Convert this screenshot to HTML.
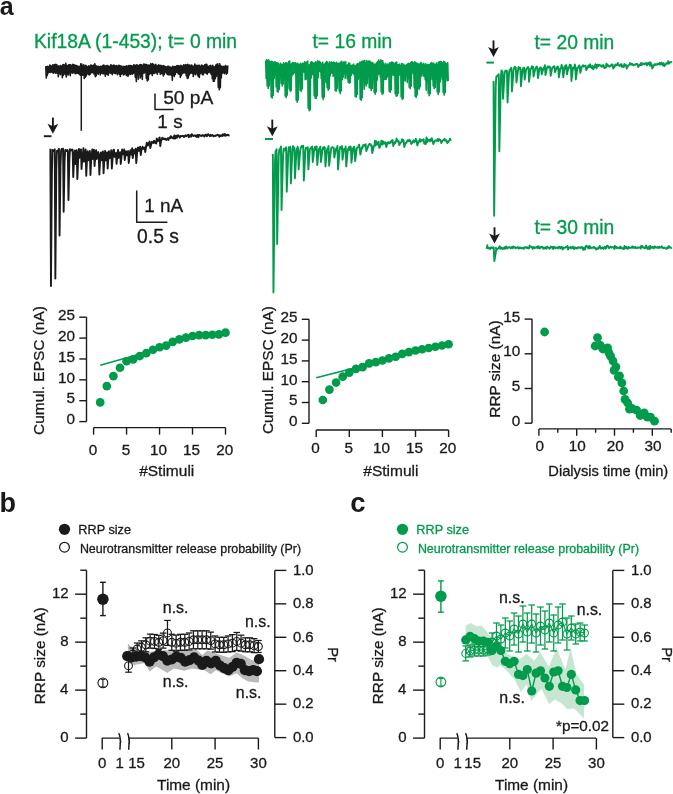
<!DOCTYPE html>
<html><head><meta charset="utf-8"><style>
html,body{margin:0;padding:0;background:#fff;}
svg{display:block;font-family:"Liberation Sans",sans-serif;filter:blur(0.3px);}
</style></head><body>
<svg width="673" height="794" viewBox="0 0 673 794">
<rect width="673" height="794" fill="#fff"/>
<text x="-0.15" y="14.66" font-size="25" fill="#1a1a1a" font-weight="bold">a</text>
<text x="-0.6" y="511.84" font-size="27" fill="#1a1a1a" font-weight="bold">b</text>
<text x="350.15" y="512.3" font-size="27.5" fill="#1a1a1a" font-weight="bold">c</text>
<text x="34" y="48.4" font-size="19.3" fill="#009b4b" font-weight="normal" stroke="#009b4b" stroke-width="0.3">Kif18A (1-453); t= 0 min</text>
<text x="312.5" y="48.2" font-size="19.3" fill="#009b4b" font-weight="normal" stroke="#009b4b" stroke-width="0.3">t= 16 min</text>
<text x="534.5" y="48.5" font-size="19.3" fill="#009b4b" font-weight="normal" stroke="#009b4b" stroke-width="0.3">t= 20 min</text>
<text x="534.5" y="234" font-size="19.3" fill="#009b4b" font-weight="normal" stroke="#009b4b" stroke-width="0.3">t= 30 min</text>
<path d="M45.8 66.13 L46.3 78 L46.8 66.83 L47.3 75.5 L47.8 66.4 L48.3 72.96 L48.8 66.9 L49.3 71.95 L49.8 65.16 L50.3 72.45 L50.8 65.45 L51.3 72.01 L51.8 66.65 L52.3 72.44 L52.8 64.91 L53.3 73.3 L53.8 64.95 L54.3 72.01 L54.8 64.53 L55.3 73.12 L55.8 64.31 L56.3 72.93 L56.8 64.75 L57.3 73.31 L57.8 66.19 L58.3 76.66 L58.8 65.82 L59.3 73.06 L59.8 66.54 L60.3 74.77 L60.8 65.57 L61.3 73.54 L61.8 66.3 L62.3 77.69 L62.8 64.88 L63.3 75.43 L63.8 64.64 L64.3 73.46 L64.8 65.29 L65.3 74.39 L65.8 63.35 L66.3 76.9 L66.8 65.44 L67.3 74.49 L67.8 65.63 L68.3 75 L68.8 64.88 L69.3 72.89 L69.8 64.66 L70.3 75.71 L70.8 64.79 L71.3 72.31 L71.8 65.93 L72.3 73.17 L72.8 64.18 L73.3 72.6 L73.8 64.8 L74.3 72.77 L74.8 64.99 L75.3 73.82 L75.8 65.52 L76.3 73.54 L76.8 65.61 L77.3 73.16 L77.8 66.22 L78.3 73.35 L78.8 66.63 L79.3 74.26 L79.8 66.33 L80.3 75.2 L80.8 63.71 L81.3 75.11 L81.8 64.12 L82.3 75.16 L82.8 65.99 L83.3 74.94 L83.8 64.88 L84.3 78.39 L84.8 66.23 L85.3 77.14 L85.8 65.22 L86.3 75.83 L86.8 66.42 L87.3 73.41 L87.8 66.94 L88.3 74.5 L88.8 65.88 L89.3 74.93 L89.8 66.49 L90.3 74.3 L90.8 65.06 L91.3 72.79 L91.8 65.29 L92.3 72.41 L92.8 65.7 L93.3 72.92 L93.8 64.95 L94.3 74.57 L94.8 63.84 L95.3 76.65 L95.8 65.63 L96.3 75.75 L96.8 66.33 L97.3 73.03 L97.8 66.26 L98.3 74.25 L98.8 66.65 L99.3 72.19 L99.8 66.59 L100.3 75.04 L100.8 66.27 L101.3 73.26 L101.8 66.46 L102.3 73.36 L102.8 65.57 L103.3 73.71 L103.8 65.02 L104.3 73.68 L104.8 65.96 L105.3 76.19 L105.8 66.02 L106.3 73.95 L106.8 65.62 L107.3 74.38 L107.8 65.45 L108.3 75.29 L108.8 66.43 L109.3 72.78 L109.8 66.26 L110.3 73.05 L110.8 64.68 L111.3 73.41 L111.8 65.29 L112.3 74.64 L112.8 65.77 L113.3 72.67 L113.8 65.11 L114.3 73.28 L114.8 65.55 L115.3 73.82 L115.8 65.94 L116.3 72.58 L116.8 65.54 L117.3 74.79 L117.8 66.32 L118.3 73.38 L118.8 65.29 L119.3 74.24 L119.8 65.63 L120.3 76.37 L120.8 66.33 L121.3 74.21 L121.8 66.09 L122.3 73.28 L122.8 67.21 L123.3 74.83 L123.8 66.3 L124.3 74.54 L124.8 66.8 L125.3 73.78 L125.8 66.29 L126.3 75.23 L126.8 65.73 L127.3 75.92 L127.8 66.58 L128.3 76.01 L128.8 65.67 L129.3 73.94 L129.8 65.59 L130.3 74.33 L130.8 65.52 L131.3 73.79 L131.8 65.78 L132.3 74.15 L132.8 66.32 L133.3 73.55 L133.8 64.91 L134.3 72.73 L134.8 65.24 L135.3 77.13 L135.8 65.19 L136.3 81.52 L136.8 64.76 L137.3 73.01 L137.8 65.28 L138.3 79.17 L138.8 65.62 L139.3 73.88 L139.8 64.89 L140.3 77.85 L140.8 64.49 L141.3 75.96 L141.8 64.89 L142.3 79.46 L142.8 65.79 L143.3 73.32 L143.8 63.98 L144.3 73.04 L144.8 64.22 L145.3 71.98 L145.8 64.5 L146.3 78.45 L146.8 64.44 L147.3 80.95 L147.8 65.52 L148.3 79.95 L148.8 65.02 L149.3 74.39 L149.8 65.27 L150.3 73.52 L150.8 63.62 L151.3 73.73 L151.8 64.55 L152.3 75.45 L152.8 63.67 L153.3 73.11 L153.8 64.78 L154.3 73.44 L154.8 65.41 L155.3 72.66 L155.8 64.23 L156.3 72.68 L156.8 66.23 L157.3 74.1 L157.8 65.62 L158.3 71.94 L158.8 64.91 L159.3 71.87 L159.8 65.7 L160.3 74.33 L160.8 65.28 L161.3 73.44 L161.8 65.82 L162.3 73.7 L162.8 66.16 L163.3 75.97 L163.8 65.47 L164.3 74.5 L164.8 66.62 L165.3 72 L165.8 66.71 L166.3 72.94 L166.8 67.01 L167.3 74.49 L167.8 66.23 L168.3 74.71 L168.8 66.25 L169.3 75.07 L169.8 67.27 L170.3 74.48 L170.8 66.99 L171.3 75.26 L171.8 67.52 L172.3 80.19 L172.8 66.22 L173.3 75.03 L173.8 67.17 L174.3 76.49 L174.8 66.58 L175.3 74.38 L175.8 66.66 L176.3 72.31 L176.8 65.84 L177.3 72.47 L177.8 65.51 L178.3 73.95 L178.8 65.78 L179.3 74.2 L179.8 66.18 L180.3 77.5 L180.8 65.34 L181.3 75.81 L181.8 65.95 L182.3 73.76 L182.8 66.03 L183.3 73.07 L183.8 64.7 L184.3 72.7 L184.8 65.38 L185.3 72.86 L185.8 64.6 L186.3 76 L186.8 65.25 L187.3 78.5 L187.8 64.41 L188.3 78 L188.8 65.23 L189.3 75 L189.8 65.1 L190.3 73.36 L190.8 65.62 L191.3 73 L191.8 64.98 L192.3 73.26 L192.8 66.54 L193.3 76.5 L193.8 66.05 L194.3 73.48 L194.8 64.13 L195.3 74.76 L195.8 65.53 L196.3 72.71 L196.8 65.22 L197.3 74.83 L197.8 65.48 L198.3 76.57 L198.8 65.36 L199.3 77.49 L199.8 65.18 L200.3 73.72 L200.8 66.78 L201.3 72.8 L201.8 64.99 L202.3 74.81 L202.8 65.71 L203.3 74.74 L203.8 66.12 L204.3 72.74 L204.8 64.86 L205.3 72.75 L205.8 64.27 L206.3 73.44 L206.8 64.21 L207.3 74.16 L207.8 66.27 L208.3 72.34 L208.8 66.3 L209.3 72.04 L209.8 65.82 L210.3 73.04 L210.8 65.4 L211.3 74.52 L211.8 66.94 L212.3 78.75 L212.8 65.31 L213.3 81.25 L213.8 67.02 L214.3 81.25 L214.8 66.71 L215.3 78.75 L215.8 65.11 L216.3 76.55 L216.8 64.4 L217.3 74.34 L217.8 63.79 L218.3 87.25 L218.8 65.86 L219.3 89.75 L219.8 63.76 L220.3 87.75 L220.8 65.72 L221.3 77.83 L221.8 66.54 L222.3 73.31 L222.8 66.5 L223.3 72.38 L223.8 66.26 L224.3 73.59 L224.8 66.36 L225.3 72.4 L225.8 65.67 L226.3 74.29 L226.8 66.79 L227.3 73.18 L227.8 65.48" fill="none" stroke="#1a1a1a" stroke-width="1.6" stroke-linejoin="round"/>
<line x1="81.3" y1="70" x2="81.3" y2="130.8" stroke="#1a1a1a" stroke-width="1.5"/>
<path d="M50.35 148.81 L50.95 286 L51.9 172.44 L52.5 149.87 L53.1 150.44 L53.7 151.04 L54.3 150.22 L54.75 149.33 L55.35 278.6 L56.3 170.64 L56.9 150.85 L57.5 151.62 L58.1 150.49 L58.7 149.23 L58.95 148.86 L59.55 235.5 L60.5 165.52 L61.1 150.54 L61.7 148.88 L62.3 150.33 L63.05 148.69 L63.65 211.7 L64.6 160.61 L65.2 150.07 L65.8 149.89 L66.4 151.04 L67 150.5 L67.6 150.05 L67.85 151.22 L68.45 200 L69.4 159.3 L70 149.16 L70.6 150.45 L71.2 149.8 L71.8 150.56 L72.4 149.55 L72.65 150.79 L73.25 177 L74.2 154.8 L74.92 150.38 L75.52 163.96 L76.47 154.42 L76.75 150.31 L77.35 179 L78.3 156.79 L79.02 148.95 L79.62 157.69 L80.57 152.36 L80.95 149.37 L81.55 169 L82.5 155.51 L83.1 151.79 L83.4 148.1 L84 161.75 L84.95 153.13 L85.65 149.5 L86.25 175.7 L87.2 154.91 L87.69 151.27 L88.29 160.2 L89.24 155.56 L89.85 150.9 L90.45 175 L91.4 155.23 L92 152.3 L92.27 149.54 L92.87 158.94 L93.82 153.6 L93.95 149.71 L94.55 166 L95.5 154.08 L96.11 150.15 L96.71 158.97 L97.66 154.75 L98.26 152.07 L98.75 155.13 L99.35 174.5 L100.3 155.92 L100.9 152.42 L101.24 152.76 L101.84 160.27 L102.79 153.73 L102.95 151.39 L103.55 173.3 L104.5 156.8 L105.1 151.06 L105.28 151.78 L105.88 160.42 L106.83 152.87 L107.05 152.41 L107.65 168.5 L108.6 154.6 L108.93 151.27 L109.53 158.24 L110.48 152.87 L111.08 151.62 L111.25 150.2 L111.85 168.5 L112.8 155.39 L113.4 149.99 L113.96 149.7 L114.56 156.85 L115.51 154.23 L115.95 152.95 L116.55 163.8 L117.5 153.89 L118 150.04 L118.6 157.82 L119.55 154.15 L120.15 152.11 L120.75 164 L121.7 154.89 L122.1 149.5 L122.7 154.41 L123.65 152.73 L124.15 149.53 L124.75 160 L125.7 153.07 L125.96 151.25 L126.56 155.35 L127.51 152.49 L128.15 151.09 L128.75 163 L129.7 154.91 L130.36 150.31 L130.96 154.56 L131.91 153.45 L132.15 148.26 L132.75 158 L133.7 152 L133.84 149.87 L134.44 153.42 L135.39 150.65 L135.65 148.8 L136.25 163 L137.2 151.64 L137.8 147.65 L138.13 147.48 L138.73 150.93 L139.68 148.3 L140.15 146.68 L140.75 155 L141.7 147.96 L142.3 148.91 L142.58 146.75 L143.18 148.86 L144.13 148.22 L144.65 147.6 L145.25 152 L146.2 145.97 L146.8 142.8 L147.19 145.09 L147.79 145.63 L148.74 143.44 L149.34 141.97 L149.65 141.55 L150.25 148 L151.2 144.4 L151.91 141.78 L152.51 142.22 L153.46 142.97 L154.06 140.61 L154.65 141.38 L155.25 143 L156.2 143.48 L156.8 138.36 L157.26 140.22 L157.86 141.16 L158.81 140.07 L159.41 137.66 L159.65 137.46 L160.25 146 L161.2 139.87 L161.8 139.34 L162.26 137.77 L162.86 139.14 L163.81 138.53 L164.41 139.35 L165.01 138.61 L165.65 139.3 L166.25 140 L167.2 138.79 L167.8 138.36 L168.4 140.01 L169 138.3 L169.6 137.56 L170.2 138.17 L170.8 136.11 L171.4 136.71 L172 137.89 L172.6 137.65 L173.2 138.57 L173.8 136.89 L174.4 135.38 L175 138.69 L175.6 137.79 L176.2 135.77 L176.8 137.88 L177.4 136.68 L178 135.15 L178.6 136.24 L179.2 136.15 L179.8 137.62 L180.4 135.9 L181 136.24 L181.6 136.18 L182.2 136.07 L182.8 135.67 L183.4 136.41 L184 136.95 L184.6 136.6 L185.2 135.51 L185.8 135.32 L186.4 136.14 L187 135.55 L187.6 135.56 L188.2 134.82 L188.8 137.2 L189.4 136.47 L190 135.18 L190.6 136.38 L191.2 136.63 L191.8 134.15 L192.4 135.31 L193 135.38 L193.6 136.01 L194.2 135.47 L194.8 135.37 L195.4 135.46 L196 136.67 L196.6 136.85 L197.2 135.15 L197.8 134.89 L198.4 137.16 L199 134.85 L199.6 135.1 L200.2 135.48 L200.8 135.75 L201.4 136.08 L202 135.68 L202.6 134.9 L203.2 135.74 L203.8 135.58 L204.4 136.55 L205 135.41 L205.6 134.61 L206.2 134.78 L206.8 136.26 L207.4 135.07 L208 134.15 L208.6 135.04 L209.2 135.38 L209.8 136.06 L210.4 134.78 L211 135.75 L211.6 135.81 L212.2 134.95 L212.8 135.24 L213.4 136.34 L214 136.31 L214.6 135.81 L215.2 135.51 L215.8 135.96 L216.4 135.24 L217 135.26 L217.6 134.83 L218.2 135.3 L218.8 135.25 L219.4 136.8 L220 135.18 L220.6 135.96 L221.2 135.98 L221.8 135.17 L222.4 135.89 L223 134.11 L223.6 135.3 L224.2 135.7 L224.8 134 L225.4 134.64 L226 135.78 L226.6 135.1 L227.2 134.66 L227.8 135.03 L228.4 134.94 L229 135.57 L229.6 135.43" fill="none" stroke="#1a1a1a" stroke-width="1.9" stroke-linejoin="round"/>
<line x1="52.9" y1="117.6" x2="52.9" y2="129.8" stroke="#1a1a1a" stroke-width="1.9"/>
<path d="M47.5 123.8 L52.9 133.8 L58.3 123.8 L52.9 126.3 Z" fill="#1a1a1a"/>
<line x1="43.8" y1="136.2" x2="51.5" y2="136.2" stroke="#1a1a1a" stroke-width="1.9"/>
<path d="M265.7 60.58 L266.2 78.78 L266.7 59.52 L267.2 85.9 L267.7 60.8 L268.2 88.4 L268.7 59.87 L269.2 85.9 L269.7 61.59 L270.2 72.5 L270.7 61.7 L271.2 97.05 L271.7 61.42 L272.2 98.05 L272.7 61.83 L273.2 95.55 L273.7 62.75 L274.2 78.39 L274.7 61.9 L275.2 74.78 L275.7 62.25 L276.2 87.02 L276.7 62.8 L277.2 91.4 L277.7 62.96 L278.2 91.9 L278.7 63.26 L279.2 89.4 L279.7 65.18 L280.2 77.72 L280.7 63.36 L281.2 83.45 L281.7 65.02 L282.2 85.95 L282.7 64.28 L283.2 83.95 L283.7 62.91 L284.2 70.47 L284.7 64.07 L285.2 96.1 L285.7 62.73 L286.2 97.6 L286.7 62.91 L287.2 95.1 L287.7 64.15 L288.2 78.36 L288.7 61.64 L289.2 88.85 L289.7 61.05 L290.2 91.35 L290.7 64.43 L291.2 90.35 L291.7 63.65 L292.2 75.19 L292.7 62.6 L293.2 74.12 L293.7 62.81 L294.2 72.78 L294.7 63.1 L295.2 72.62 L295.7 62.79 L296.2 100.25 L296.7 63.99 L297.2 102.25 L297.7 63.41 L298.2 99.75 L298.7 64.36 L299.2 76.53 L299.7 64.21 L300.2 90.35 L300.7 63.21 L301.2 91.35 L301.7 64.54 L302.2 88.85 L302.7 63.29 L303.2 72.17 L303.7 63.21 L304.2 71.97 L304.7 61.9 L305.2 79.69 L305.7 62.88 L306.2 79.11 L306.7 62.02 L307.2 72.41 L307.7 61.17 L308.2 108.25 L308.7 65.17 L309.2 110.75 L309.7 64.92 L310.2 109.75 L310.7 62.4 L311.2 77.94 L311.7 61.92 L312.2 74.4 L312.7 62.56 L313.2 74.76 L313.7 63.27 L314.2 95.85 L314.7 63.15 L315.2 98.35 L315.7 61.72 L316.2 98.35 L316.7 62.19 L317.2 95.85 L317.7 60.92 L318.2 77.48 L318.7 61.84 L319.2 71.18 L319.7 61.37 L320.2 72.07 L320.7 62.78 L321.2 78.45 L321.7 64.21 L322.2 97.1 L322.7 62.26 L323.2 99.6 L323.7 64.48 L324.2 97.1 L324.7 63.97 L325.2 80.78 L325.7 62.5 L326.2 82.45 L326.7 61.48 L327.2 87.7 L327.7 62.37 L328.2 90.2 L328.7 64.36 L329.2 88.7 L329.7 61.7 L330.2 75.99 L330.7 63.26 L331.2 72.61 L331.7 62.15 L332.2 73.28 L332.7 62.83 L333.2 76.4 L333.7 62.17 L334.2 74.63 L334.7 62.88 L335.2 90.6 L335.7 63.41 L336.2 91.1 L336.7 62.25 L337.2 88.6 L337.7 63.92 L338.2 75.79 L338.7 63.35 L339.2 91.1 L339.7 63.15 L340.2 93.6 L340.7 62.1 L341.2 91.1 L341.7 61.28 L342.2 79.75 L342.7 62.93 L343.2 77.17 L343.7 62.12 L344.2 73.55 L344.7 62.1 L345.2 78.32 L345.7 61.88 L346.2 74 L346.7 65.44 L347.2 78.7 L347.7 64.92 L348.2 82.29 L348.7 62.91 L349.2 83.28 L349.7 63.56 L350.2 82.39 L350.7 65.58 L351.2 75.49 L351.7 65.32 L352.2 73.04 L352.7 65.05 L353.2 73.71 L353.7 64 L354.2 74.71 L354.7 66.28 L355.2 96.6 L355.7 65.48 L356.2 97.1 L356.7 64.4 L357.2 94.6 L357.7 63.56 L358.2 79.17 L358.7 64.07 L359.2 76.99 L359.7 62.4 L360.2 99.25 L360.7 62.26 L361.2 100.25 L361.7 61.5 L362.2 97.75 L362.7 61.12 L363.2 76.35 L363.7 60.96 L364.2 89.28 L364.7 60.52 L365.2 83.95 L365.7 63.09 L366.2 85.95 L366.7 60.48 L367.2 83.45 L367.7 62.16 L368.2 75.24 L368.7 61.03 L369.2 87.79 L369.7 60.93 L370.2 87.95 L370.7 62.02 L371.2 90.45 L371.7 62.82 L372.2 88.45 L372.7 62.49 L373.2 72.5 L373.7 64.45 L374.2 92.15 L374.7 64.02 L375.2 94.15 L375.7 64.03 L376.2 91.65 L376.7 62.79 L377.2 80.1 L377.7 61.54 L378.2 74.82 L378.7 60.08 L379.2 73.34 L379.7 62.08 L380.2 77.02 L380.7 60.1 L381.2 91.85 L381.7 60.63 L382.2 94.35 L382.7 60.78 L383.2 93.35 L383.7 63.3 L384.2 79.08 L384.7 65.2 L385.2 79.59 L385.7 63.55 L386.2 79.12 L386.7 65.52 L387.2 77.13 L387.7 64.06 L388.2 73.86 L388.7 64.22 L389.2 91.15 L389.7 62.74 L390.2 92.15 L390.7 62.69 L391.2 89.65 L391.7 62.07 L392.2 74.39 L392.7 62.33 L393.2 75.33 L393.7 62.77 L394.2 74.72 L394.7 64.36 L395.2 93.8 L395.7 62.57 L396.2 96.3 L396.7 62.17 L397.2 95.8 L397.7 64.98 L398.2 93.3 L398.7 64.61 L399.2 75.16 L399.7 64.13 L400.2 74.32 L400.7 66.04 L401.2 97.05 L401.7 63.58 L402.2 99.55 L402.7 63.85 L403.2 98.55 L403.7 65.02 L404.2 78.72 L404.7 64.97 L405.2 80.97 L405.7 65.44 L406.2 75.31 L406.7 64.71 L407.2 82.53 L407.7 63.91 L408.2 77.9 L408.7 63.32 L409.2 87.2 L409.7 64.15 L410.2 88.7 L410.7 62.5 L411.2 86.2 L411.7 61.91 L412.2 71 L412.7 62.05 L413.2 73.65 L413.7 63.23 L414.2 87.49 L414.7 61.83 L415.2 96.35 L415.7 62.77 L416.2 97.35 L416.7 62.95 L417.2 94.85 L417.7 63.73 L418.2 88.15 L418.7 64 L419.2 89.15 L419.7 64.16 L420.2 86.65 L420.7 62.58 L421.2 76.15 L421.7 63.19 L422.2 73.39 L422.7 65.32 L423.2 75.85 L423.7 63.4 L424.2 76.28 L424.7 65.34 L425.2 79.77 L425.7 63.89 L426.2 90.27 L426.7 65.22 L427.2 80 L427.7 64.59 L428.2 93.15 L428.7 64.64 L429.2 95.65 L429.7 64.44 L430.2 93.65 L430.7 63.18 L431.2 73.07 L431.7 62.61 L432.2 79.45 L432.7 64.17 L433.2 85.95 L433.7 63.09 L434.2 88.45 L434.7 64.63 L435.2 87.45 L435.7 64.22 L436.2 77.21 L436.7 62.7 L437.2 91.9 L437.7 64.61 L438.2 94.4 L438.7 62.06 L439.2 91.9 L439.7 61.74 L440.2 81.98 L440.7 61.48 L441.2 76.34 L441.7 62.16 L442.2 79.56 L442.7 63.02 L443.2 92.6 L443.7 61.47 L444.2 95.1 L444.7 61.74 L445.2 92.6 L445.7 63.34 L446.2 71.7 L446.7 64.08 L447.2 80.77 L447.7 62.8 L448.2 80.95" fill="none" stroke="#009b4b" stroke-width="1.6" stroke-linejoin="round"/>
<path d="M272.2 155.35 L272.85 154.74 L273.45 292.5 L275 162.02 L275.6 151.17 L276.2 150.91 L276.55 149.25 L277.15 244 L278.7 155.73 L279.3 149.62 L279.9 148.97 L280.5 148.47 L280.95 146.41 L281.55 210 L283.1 154.22 L283.7 148.58 L284.3 150.69 L284.9 149.12 L285.5 148.54 L286.15 147.27 L286.75 191.7 L288.3 152.23 L288.9 147.25 L289.5 148.97 L290.25 146.99 L290.85 183.5 L292.4 149.93 L293 146.17 L293.6 149.65 L294.35 147.44 L294.95 178.3 L296.5 149.93 L297.1 148.33 L297.7 146.78 L298.05 148.6 L298.65 169.4 L300.2 150.46 L300.8 148.14 L301.4 146.67 L302 145.94 L302.6 147.1 L303.25 145.77 L303.85 180.5 L305.4 150.38 L306 147.72 L306.6 148.19 L307.2 147.8 L307.75 147.27 L308.35 169.4 L309.9 149.09 L310.5 148.78 L311.1 147.59 L311.7 147.03 L312.15 146.52 L312.75 162 L314.3 148.95 L314.9 147.07 L315.5 149.68 L316.1 146.66 L316.65 146.43 L317.25 164.9 L318.8 149.28 L319.4 148.52 L320 147.6 L320.35 146.64 L320.95 162 L322.5 149.8 L323.1 147.56 L323.7 148.92 L324.3 146.93 L324.85 147.82 L325.45 166.4 L327 149.87 L327.6 148.31 L328.2 148.39 L328.55 146.08 L329.15 165.7 L330.7 152.17 L331.3 148.2 L331.9 147.46 L332.5 147.05 L333.1 147.72 L333.75 148.04 L334.35 157.5 L335.9 149.34 L336.5 148.01 L337.1 148.52 L337.45 145.91 L338.05 169.4 L339.6 150.26 L340.2 146.9 L340.8 148.18 L341.4 148.5 L341.95 146.09 L342.55 159.7 L344.1 148.92 L344.7 148.81 L345.3 149.02 L345.65 146.55 L346.25 166.4 L347.8 149.84 L348.4 148.31 L349 147.33 L349.6 149.94 L350.2 146.34 L350.85 147.07 L351.45 162.7 L353 148.62 L353.6 147.29 L354.2 146.71 L354.55 148.57 L355.15 161.2 L356.7 149.21 L357.3 147.42 L357.9 147.42 L358.5 146.08 L359.1 144.68 L359.75 148.71 L360.35 154.5 L361.9 147.31 L362.5 148.08 L363.1 145.18 L363.7 145.51 L364.3 144.92 L364.9 146.16 L365.65 144.21 L366.25 151 L367.8 147.41 L368.4 145.22 L369 144.71 L369.6 143.73 L370.2 144.69 L370.8 144.27 L371.4 146.52 L371.65 145.34 L372.25 153 L373.8 146.45 L374.4 145.7 L375 140.79 L375.6 145.56 L376.2 141.22 L376.8 143.48 L377.4 144.41 L378 143.31 L378.65 141.75 L379.25 148 L380.8 144.83 L381.4 140.6 L382 140.92 L382.6 144.45 L383.2 141.51 L383.8 142.84 L384.4 143.48 L385 142.23 L385.65 142.59 L386.25 147 L387.8 142.43 L388.4 142.18 L389 143.36 L389.6 142.95 L390.2 142.07 L390.8 142.76 L391.4 140.79 L392 140.43 L392.65 139.97 L393.25 146 L394.8 142.33 L395.4 143.02 L396 141.09 L396.6 138.53 L397.2 140.33 L397.8 141.52 L398.4 141.29 L398.65 141.04 L399.25 145 L400.8 142.41 L401.4 141.97 L402 139.28 L402.6 141.36 L403.2 139.97 L403.65 141.12 L404.25 147 L405.8 142.77 L406.4 142.85 L407 141.55 L407.6 140.18 L408.2 140.34 L408.8 141.32 L409.4 139.62 L410 140.63 L410.65 141.47 L411.25 144 L412.8 142.04 L413.4 140.32 L414 141.01 L414.6 142.04 L415.2 140.92 L415.8 138.8 L416.4 140.79 L416.65 140.89 L417.25 145.5 L418.8 141.37 L419.4 140.56 L420 139.02 L420.6 141.73 L421.2 140.89 L421.8 139.91 L422.4 140.67 L423 140.55 L423.65 139.26 L424.25 143.5 L425.8 143.99 L426.4 137.53 L427 142.28 L427.6 139.19 L428.2 139.98 L428.8 140.81 L429.4 139.88 L430 141.37 L430.6 139.28 L431.2 140.72 L431.8 138.15 L432.4 140.83 L432.65 141.02 L433.25 144 L434.8 140.79 L435.4 140.35 L436 140.3 L436.6 140.85 L437.2 140.92 L437.8 139.1 L438.4 140.97 L439 139.07 L439.6 140.1 L440.2 139.69 L440.65 140.53 L441.25 143 L442.8 140.47 L443.4 140.21 L444 139.37 L444.6 138.91 L445.2 140.77 L445.8 140.29 L446.4 140.22 L446.65 140.97 L447.25 143 L448.8 141.25 L449.4 140.49 L450 138.69 L450.6 139.97 L451.2 139.45" fill="none" stroke="#009b4b" stroke-width="1.9" stroke-linejoin="round"/>
<line x1="272.3" y1="119.6" x2="272.3" y2="132.2" stroke="#1a1a1a" stroke-width="1.9"/>
<path d="M266.9 126.2 L272.3 136.2 L277.7 126.2 L272.3 128.7 Z" fill="#1a1a1a"/>
<line x1="265" y1="139" x2="273" y2="139" stroke="#009b4b" stroke-width="2"/>
<path d="M493.2 81.03 L493.55 81.47 L494.15 215.8 L495.7 87.18 L496.3 76.68 L496.9 76.24 L497.5 75.44 L498.1 75.73 L498.75 74.19 L499.35 151.3 L500.9 77.78 L501.5 70.41 L502.1 73.09 L502.45 71.5 L503.05 98.8 L504.6 73.43 L505.2 70.84 L505.8 70.47 L506.4 71.02 L506.95 71.21 L507.55 102.5 L509.1 72.03 L509.7 69.61 L510.3 70.17 L510.9 68.67 L511.35 67.69 L511.95 91.4 L513.5 70.45 L514.1 67.98 L514.7 66.72 L515.3 67.66 L515.85 67.86 L516.45 82.5 L518 70.28 L518.6 66.88 L519.2 68.21 L519.8 68.94 L520.35 67.86 L520.95 86.2 L522.5 69.84 L523.1 68.32 L523.7 68.6 L524.05 67.61 L524.65 79.5 L526.2 69.06 L526.8 68.74 L527.4 67.57 L528 66.98 L528.45 68.04 L529.05 81.7 L530.6 68.69 L531.2 68.59 L531.8 66.34 L532.4 66.89 L532.95 66.62 L533.55 76.5 L535.1 69.65 L535.7 67.46 L536.3 67.81 L536.9 66.58 L537.35 68.62 L537.95 78 L539.5 68.62 L540.1 67.72 L540.7 67.47 L541.15 68 L541.75 74.3 L543.3 68.72 L543.9 67.52 L544.5 67.49 L544.85 65.12 L545.45 75 L547 67.68 L547.6 66.59 L548.2 67.6 L548.8 66.37 L549.4 66.78 L550.05 67.12 L550.65 75.8 L552.2 68.16 L552.8 67.33 L553.4 66.61 L554 67.2 L554.45 66.16 L555.05 72.1 L556.6 68.06 L557.2 67.25 L557.8 66.44 L558.25 67.24 L558.85 77.3 L560.4 68.47 L561 68.41 L561.6 64.91 L562.2 67.45 L562.65 66.98 L563.25 77.3 L564.8 67.22 L565.4 65.41 L566 67.77 L566.35 65.18 L566.95 74.3 L568.5 67.44 L569.1 67.77 L569.7 64.67 L570.3 66.04 L570.85 65.04 L571.45 81 L573 67.43 L573.6 67.93 L574.2 68.47 L574.8 64.35 L575.25 65.68 L575.85 79.5 L577.4 67.71 L578 67.93 L578.6 66.65 L579.2 65.36 L579.75 66.46 L580.35 72.8 L581.9 66.54 L582.5 65.89 L583.1 65.29 L583.7 66.5 L584.3 66.4 L584.9 65.94 L585.65 65.78 L586.25 70 L587.8 67.47 L588.4 65.39 L589 67.22 L589.6 65.68 L590.2 64.3 L590.8 67.3 L591.4 66.4 L592 68.1 L592.65 65.84 L593.25 69.3 L594.8 66.39 L595.4 64.13 L596 67.11 L596.6 68.44 L597.2 64.75 L597.8 64.92 L598.4 66.24 L599 64.68 L599.6 65.27 L600.2 65.17 L600.8 65.73 L601.4 66.68 L602 65.51 L602.6 66.45 L603.2 64.99 L603.65 65.75 L604.25 68 L605.8 67.65 L606.4 63.79 L607 66.17 L607.6 64.67 L608.2 65.9 L608.8 65.84 L609.4 66.66 L610 66.09 L610.6 66.29 L611.2 65.07 L611.8 64.42 L612.4 64.37 L612.65 64.64 L613.25 68.5 L614.8 66.4 L615.4 64.47 L616 64.93 L616.6 65.28 L617.2 64.63 L617.8 62.93 L618.4 64.88 L619 65.17 L619.6 66.06 L620.2 65.5 L620.8 64.2 L621.4 64.1 L622 66.96 L622.6 65.62 L623.2 66.74 L623.8 67.03 L624.4 63.91 L625 65.16 L625.6 65.22 L626.15 65.27 L626.75 68.6 L628.3 65.44 L628.9 64.85 L629.5 64.81 L630.1 63.04 L630.7 64.42 L631.3 63.79 L631.9 64.69 L632.5 64.05 L633.1 65.17 L633.7 65.36 L634.3 64.81 L634.9 64.8 L635.5 64.55 L636.1 63.97 L636.7 64.25 L637.3 63.89 L637.65 64.77 L638.25 67 L639.8 64.5 L640.4 64.91 L641 62.92 L641.6 65.19 L642.2 63.47 L642.8 63.48 L643.4 64.02 L644 63.63 L644.6 64.49 L645.2 63.58 L645.8 63.06 L646.4 63.27 L647 65.47 L647.6 64.15 L648.2 62.89 L648.8 64.08 L649.4 62.46 L650 65.87 L650.6 62.46 L651.2 64.49 L651.65 64.52 L652.25 68.6 L653.8 65.65 L654.4 64.21 L655 64.91 L655.6 64.35 L656.2 64.12 L656.8 64.8 L657.4 63.98 L658 64.15 L658.6 63.66 L659.2 64.41 L659.8 62.8 L660.4 64.54 L661 63.21 L661.6 62.6 L662.2 64.05 L662.8 65.38 L663.4 64.62 L663.65 63.12 L664.25 66 L665.8 64.42 L666.4 63.1 L667 63.42 L667.6 63.62 L668.2 61.18 L668.8 63.68 L669.4 62.44 L670 62.76 L670.6 61.96 L671.2 61.91 L671.8 62.46" fill="none" stroke="#009b4b" stroke-width="1.9" stroke-linejoin="round"/>
<line x1="493.5" y1="40.4" x2="493.5" y2="53" stroke="#1a1a1a" stroke-width="1.9"/>
<path d="M488.1 47 L493.5 57 L498.9 47 L493.5 49.5 Z" fill="#1a1a1a"/>
<line x1="486.4" y1="62.6" x2="493.9" y2="62.6" stroke="#009b4b" stroke-width="2"/>
<path d="M486.7 248.97 L487.3 245.29 L487.9 248.32 L488.5 247.65 L489.1 248.59 L489.7 247.89 L490.3 248.97 L490.9 247.62 L491.5 247.21 L492.1 248.04 L492.7 247.92 L493.3 247.33 L493.75 247.45 L494.35 261 L496.3 249.37 L495.95 248.02 L496.55 249.9 L498.5 248.13 L499.1 247.32 L499.7 246.24 L500.3 248.86 L500.9 247.43 L501.5 248.6 L502.1 247.91 L502.7 249.06 L503.3 248.75 L503.9 247.84 L504.5 248.71 L505.1 246.89 L505.7 248.54 L506.3 246.49 L506.9 247.86 L507.5 248.4 L508.1 247.77 L508.7 247.32 L509.3 247 L509.9 247.34 L510.5 248.39 L511.1 248.27 L511.7 247.4 L512.3 246.67 L512.9 248.11 L513.5 246.51 L514.1 247.2 L514.7 247.05 L515.3 248.16 L515.9 247.78 L516.5 247.95 L517.1 247.8 L517.7 247.09 L518.3 248 L518.9 248.66 L519.5 247.57 L520.1 248.08 L520.7 247.51 L521.3 248.37 L521.9 248.1 L522.5 248.26 L523.1 247.86 L523.7 248.83 L524.3 247.33 L524.9 247.35 L525.5 247.16 L526.1 248.06 L526.7 247.13 L527.3 247.12 L527.9 248.15 L528.5 248.47 L529.1 248.03 L529.7 245.59 L530.3 246.88 L530.9 246.79 L531.5 246.69 L532.1 247.29 L532.7 248.96 L533.3 247.37 L533.9 247.05 L534.5 248.12 L535.1 247.65 L535.7 247.69 L536.3 247.08 L536.9 247.6 L537.5 247.93 L538.1 246.17 L538.7 246.39 L539.3 248.41 L539.9 248.23 L540.5 247.22 L541.1 246.83 L541.7 247.46 L542.3 246.7 L542.9 247.34 L543.5 248.84 L544.1 247.7 L544.7 248.47 L545.3 247.43 L545.9 247.88 L546.5 248.64 L547.1 246.6 L547.7 247.34 L548.3 247.48 L548.9 247.81 L549.5 248.77 L550.1 248.11 L550.7 246.48 L551.3 247.4 L551.9 246.93 L552.5 246.91 L553.1 249.12 L553.7 246.8 L554.3 247.78 L554.9 247.06 L555.5 248.25 L556.1 247.87 L556.7 247.7 L557.3 247.54 L557.9 248.45 L558.5 246.9 L559.1 247.05 L559.7 246.76 L560.3 248.6 L560.9 247.38 L561.5 246.82 L562.1 247.29 L562.7 249.47 L563.3 247.52 L563.9 248.24 L564.5 247.95 L565.1 247.59 L565.7 247.08 L566.3 247.35 L566.9 247.33 L567.5 245.94 L568.1 249.54 L568.7 248.29 L569.3 247.69 L569.9 247.45 L570.5 247.01 L571.1 248.31 L571.7 247.46 L572.3 247.96 L572.9 246.56 L573.5 247.88 L574.1 249.1 L574.7 247.38 L575.3 248.2 L575.9 247.63 L576.5 248.43 L577.1 248.4 L577.7 247.65 L578.3 247.18 L578.9 247.82 L579.5 247.63 L580.1 247.14 L580.7 247.94 L581.3 247.92 L581.9 246.93 L582.5 247.52 L583.1 249.79 L583.7 248.21 L584.3 247.67 L584.9 249.48 L585.5 247.26 L586.1 245.74 L586.7 246.17 L587.3 246.46 L587.9 247.8 L588.5 248.33 L589.1 245.97 L589.7 248.44 L590.3 246.68 L590.9 247.79 L591.5 247.95 L592.1 247.92 L592.7 247.61 L593.3 247.73 L593.9 246.75 L594.5 247.81 L595.1 248.33 L595.7 248.29 L596.3 249.56 L596.9 248.41 L597.5 248.14 L598.1 248.85 L598.7 247.78 L599.3 246.63 L599.9 245.92 L600.5 248.56 L601.1 248.03 L601.7 248.24 L602.3 247.35 L602.9 247.86 L603.5 249.01 L604.1 247.85 L604.7 246.76 L605.3 247.28 L605.9 248.64 L606.5 246.78 L607.1 245.66 L607.7 245.88 L608.3 246.6 L608.9 248.2 L609.5 247.67 L610.1 247.03 L610.7 246.64 L611.3 247.51 L611.9 247.48 L612.5 247.18 L613.1 247.42 L613.7 247.03 L614.3 248.95 L614.9 245.82 L615.5 247.69 L616.1 246.84 L616.7 248.13 L617.3 247.42 L617.9 247.87 L618.5 248 L619.1 247.75 L619.7 248.34 L620.3 246.56 L620.9 248.31 L621.5 247.44 L622.1 247.89 L622.7 248.77 L623.3 248.44 L623.9 249.09 L624.5 245.91 L625.1 246.88 L625.7 248.32 L626.3 246.75 L626.9 247.46 L627.5 248.88 L628.1 248.26 L628.7 246.88 L629.3 247.94 L629.9 248.08 L630.5 247.65 L631.1 247.52 L631.7 247.71 L632.3 246.47 L632.9 247.69 L633.5 246.87 L634.1 247.9 L634.7 247.92 L635.3 246.93 L635.9 248.06 L636.5 247.87 L637.1 247.57 L637.7 248.14 L638.3 247.37 L638.9 247.39 L639.5 247.66 L640.1 247.56 L640.7 248.46 L641.3 245.82 L641.9 247.37 L642.5 246.09 L643.1 247.21 L643.7 247.77 L644.3 247.58 L644.9 248.3 L645.5 247.81 L646.1 245.52 L646.7 246.73 L647.3 248.74 L647.9 248.74 L648.5 247.64 L649.1 246.4 L649.7 249.19 L650.3 245.99 L650.9 247.79 L651.5 247.52 L652.1 247.73 L652.7 246.67 L653.3 247.25 L653.9 248.35 L654.5 247.18 L655.1 246.5 L655.7 247.53 L656.3 247.6 L656.9 247.43 L657.5 246.94 L658.1 247.94 L658.7 247.44 L659.3 246.65 L659.9 247.7 L660.5 247.51 L661.1 247.64 L661.7 246.26 L662.3 246.96 L662.9 247.88 L663.5 248.24 L664.1 247.8 L664.7 247.66 L665.3 248.09 L665.9 248.29 L666.5 248.88 L667.1 247.91 L667.7 247.14 L668.3 247.92 L668.9 246.1 L669.5 247.62 L670.1 247.24 L670.7 247.56 L671.3 247.95 L671.9 247.62" fill="none" stroke="#009b4b" stroke-width="1.9" stroke-linejoin="round"/>
<line x1="494.5" y1="227.3" x2="494.5" y2="239.4" stroke="#1a1a1a" stroke-width="1.9"/>
<path d="M489.1 233.4 L494.5 243.4 L499.9 233.4 L494.5 235.9 Z" fill="#1a1a1a"/>
<path d="M155 93.5 V109.4 H173.6" fill="none" stroke="#1a1a1a" stroke-width="1.5" stroke-linejoin="round"/>
<text x="163.2" y="103.6" font-size="19.2" fill="#1a1a1a" font-weight="normal" stroke="#1a1a1a" stroke-width="0.3">50 pA</text>
<text x="157.35" y="127.5" font-size="19" fill="#1a1a1a" font-weight="normal" stroke="#1a1a1a" stroke-width="0.3">1 s</text>
<path d="M136.7 190.5 V222.3 H167.4" fill="none" stroke="#1a1a1a" stroke-width="1.5" stroke-linejoin="round"/>
<text x="144.15" y="212.2" font-size="19" fill="#1a1a1a" font-weight="normal" stroke="#1a1a1a" stroke-width="0.3">1 nA</text>
<text x="137.05" y="242.5" font-size="19.3" fill="#1a1a1a" font-weight="normal" stroke="#1a1a1a" stroke-width="0.3">0.5 s</text>
<line x1="86.5" y1="317.2" x2="86.5" y2="421.6" stroke="#1a1a1a" stroke-width="1.4"/>
<line x1="79.3" y1="421.6" x2="86.5" y2="421.6" stroke="#1a1a1a" stroke-width="1.4"/>
<text x="66.4" y="424.3" font-size="15.3" fill="#1a1a1a" font-weight="normal" stroke="#1a1a1a" stroke-width="0.3">0</text>
<line x1="79.3" y1="400.72" x2="86.5" y2="400.72" stroke="#1a1a1a" stroke-width="1.4"/>
<text x="66.45" y="403.42" font-size="15.3" fill="#1a1a1a" font-weight="normal" stroke="#1a1a1a" stroke-width="0.3">5</text>
<line x1="79.3" y1="379.84" x2="86.5" y2="379.84" stroke="#1a1a1a" stroke-width="1.4"/>
<text x="57.9" y="382.54" font-size="15.3" fill="#1a1a1a" font-weight="normal" stroke="#1a1a1a" stroke-width="0.3">10</text>
<line x1="79.3" y1="358.96" x2="86.5" y2="358.96" stroke="#1a1a1a" stroke-width="1.4"/>
<text x="57.95" y="361.66" font-size="15.3" fill="#1a1a1a" font-weight="normal" stroke="#1a1a1a" stroke-width="0.3">15</text>
<line x1="79.3" y1="338.08" x2="86.5" y2="338.08" stroke="#1a1a1a" stroke-width="1.4"/>
<text x="57.9" y="340.78" font-size="15.3" fill="#1a1a1a" font-weight="normal" stroke="#1a1a1a" stroke-width="0.3">20</text>
<line x1="79.3" y1="317.2" x2="86.5" y2="317.2" stroke="#1a1a1a" stroke-width="1.4"/>
<text x="57.95" y="319.9" font-size="15.3" fill="#1a1a1a" font-weight="normal" stroke="#1a1a1a" stroke-width="0.3">25</text>
<line x1="93.6" y1="427.6" x2="225.5" y2="427.6" stroke="#1a1a1a" stroke-width="1.4"/>
<line x1="93.6" y1="427.6" x2="93.6" y2="434.6" stroke="#1a1a1a" stroke-width="1.4"/>
<text x="88.65" y="454.5" font-size="15.3" fill="#1a1a1a" font-weight="normal" stroke="#1a1a1a" stroke-width="0.3">0</text>
<line x1="126.57" y1="427.6" x2="126.57" y2="434.6" stroke="#1a1a1a" stroke-width="1.4"/>
<text x="121.65" y="454.5" font-size="15.3" fill="#1a1a1a" font-weight="normal" stroke="#1a1a1a" stroke-width="0.3">5</text>
<line x1="159.55" y1="427.6" x2="159.55" y2="434.6" stroke="#1a1a1a" stroke-width="1.4"/>
<text x="150.08" y="454.5" font-size="15.3" fill="#1a1a1a" font-weight="normal" stroke="#1a1a1a" stroke-width="0.3">10</text>
<line x1="192.52" y1="427.6" x2="192.52" y2="434.6" stroke="#1a1a1a" stroke-width="1.4"/>
<text x="183.07" y="454.5" font-size="15.3" fill="#1a1a1a" font-weight="normal" stroke="#1a1a1a" stroke-width="0.3">15</text>
<line x1="225.5" y1="427.6" x2="225.5" y2="434.6" stroke="#1a1a1a" stroke-width="1.4"/>
<text x="216.23" y="454.5" font-size="15.3" fill="#1a1a1a" font-weight="normal" stroke="#1a1a1a" stroke-width="0.3">20</text>
<text x="139.15" y="475.8" font-size="15.5" fill="#1a1a1a" font-weight="normal" stroke="#1a1a1a" stroke-width="0.3">#Stimuli</text>
<text x="0" y="0" font-size="15.46" fill="#1a1a1a" stroke="#1a1a1a" stroke-width="0.3" transform="translate(44.3 434.9) rotate(-90)">Cumul. EPSC (nA)</text>
<line x1="100.19" y1="365.22" x2="146.36" y2="352.28" stroke="#009b4b" stroke-width="1.5"/>
<circle cx="100.19" cy="402.39" r="4.35" fill="#009b4b" stroke="none" stroke-width="0"/>
<circle cx="106.79" cy="386.1" r="4.35" fill="#009b4b" stroke="none" stroke-width="0"/>
<circle cx="113.38" cy="376.08" r="4.35" fill="#009b4b" stroke="none" stroke-width="0"/>
<circle cx="119.98" cy="367.73" r="4.35" fill="#009b4b" stroke="none" stroke-width="0"/>
<circle cx="126.57" cy="361.26" r="4.35" fill="#009b4b" stroke="none" stroke-width="0"/>
<circle cx="133.17" cy="359.38" r="4.35" fill="#009b4b" stroke="none" stroke-width="0"/>
<circle cx="139.76" cy="356.04" r="4.35" fill="#009b4b" stroke="none" stroke-width="0"/>
<circle cx="146.36" cy="353.11" r="4.35" fill="#009b4b" stroke="none" stroke-width="0"/>
<circle cx="152.95" cy="349.77" r="4.35" fill="#009b4b" stroke="none" stroke-width="0"/>
<circle cx="159.55" cy="347.27" r="4.35" fill="#009b4b" stroke="none" stroke-width="0"/>
<circle cx="166.14" cy="345.6" r="4.35" fill="#009b4b" stroke="none" stroke-width="0"/>
<circle cx="172.74" cy="341.84" r="4.35" fill="#009b4b" stroke="none" stroke-width="0"/>
<circle cx="179.33" cy="339.33" r="4.35" fill="#009b4b" stroke="none" stroke-width="0"/>
<circle cx="185.93" cy="337.66" r="4.35" fill="#009b4b" stroke="none" stroke-width="0"/>
<circle cx="192.52" cy="335.99" r="4.35" fill="#009b4b" stroke="none" stroke-width="0"/>
<circle cx="199.12" cy="335.16" r="4.35" fill="#009b4b" stroke="none" stroke-width="0"/>
<circle cx="205.71" cy="335.16" r="4.35" fill="#009b4b" stroke="none" stroke-width="0"/>
<circle cx="212.31" cy="334.74" r="4.35" fill="#009b4b" stroke="none" stroke-width="0"/>
<circle cx="218.9" cy="334.32" r="4.35" fill="#009b4b" stroke="none" stroke-width="0"/>
<circle cx="225.5" cy="332.65" r="4.35" fill="#009b4b" stroke="none" stroke-width="0"/>
<line x1="309" y1="319.3" x2="309" y2="423.3" stroke="#1a1a1a" stroke-width="1.4"/>
<line x1="301.8" y1="423.3" x2="309" y2="423.3" stroke="#1a1a1a" stroke-width="1.4"/>
<text x="288.9" y="426.2" font-size="15.3" fill="#1a1a1a" font-weight="normal" stroke="#1a1a1a" stroke-width="0.3">0</text>
<line x1="301.8" y1="402.5" x2="309" y2="402.5" stroke="#1a1a1a" stroke-width="1.4"/>
<text x="288.95" y="405.4" font-size="15.3" fill="#1a1a1a" font-weight="normal" stroke="#1a1a1a" stroke-width="0.3">5</text>
<line x1="301.8" y1="381.7" x2="309" y2="381.7" stroke="#1a1a1a" stroke-width="1.4"/>
<text x="280.4" y="384.6" font-size="15.3" fill="#1a1a1a" font-weight="normal" stroke="#1a1a1a" stroke-width="0.3">10</text>
<line x1="301.8" y1="360.9" x2="309" y2="360.9" stroke="#1a1a1a" stroke-width="1.4"/>
<text x="280.45" y="363.8" font-size="15.3" fill="#1a1a1a" font-weight="normal" stroke="#1a1a1a" stroke-width="0.3">15</text>
<line x1="301.8" y1="340.1" x2="309" y2="340.1" stroke="#1a1a1a" stroke-width="1.4"/>
<text x="280.4" y="343" font-size="15.3" fill="#1a1a1a" font-weight="normal" stroke="#1a1a1a" stroke-width="0.3">20</text>
<line x1="301.8" y1="319.3" x2="309" y2="319.3" stroke="#1a1a1a" stroke-width="1.4"/>
<text x="280.45" y="322.2" font-size="15.3" fill="#1a1a1a" font-weight="normal" stroke="#1a1a1a" stroke-width="0.3">25</text>
<line x1="316.2" y1="430" x2="448.6" y2="430" stroke="#1a1a1a" stroke-width="1.4"/>
<line x1="316.2" y1="430" x2="316.2" y2="437" stroke="#1a1a1a" stroke-width="1.4"/>
<text x="311.25" y="452.8" font-size="15.3" fill="#1a1a1a" font-weight="normal" stroke="#1a1a1a" stroke-width="0.3">0</text>
<line x1="349.3" y1="430" x2="349.3" y2="437" stroke="#1a1a1a" stroke-width="1.4"/>
<text x="344.38" y="452.8" font-size="15.3" fill="#1a1a1a" font-weight="normal" stroke="#1a1a1a" stroke-width="0.3">5</text>
<line x1="382.4" y1="430" x2="382.4" y2="437" stroke="#1a1a1a" stroke-width="1.4"/>
<text x="372.93" y="452.8" font-size="15.3" fill="#1a1a1a" font-weight="normal" stroke="#1a1a1a" stroke-width="0.3">10</text>
<line x1="415.5" y1="430" x2="415.5" y2="437" stroke="#1a1a1a" stroke-width="1.4"/>
<text x="406.05" y="452.8" font-size="15.3" fill="#1a1a1a" font-weight="normal" stroke="#1a1a1a" stroke-width="0.3">15</text>
<line x1="448.6" y1="430" x2="448.6" y2="437" stroke="#1a1a1a" stroke-width="1.4"/>
<text x="439.33" y="452.8" font-size="15.3" fill="#1a1a1a" font-weight="normal" stroke="#1a1a1a" stroke-width="0.3">20</text>
<text x="363.35" y="475.8" font-size="15.5" fill="#1a1a1a" font-weight="normal" stroke="#1a1a1a" stroke-width="0.3">#Stimuli</text>
<text x="0" y="0" font-size="15.35" fill="#1a1a1a" stroke="#1a1a1a" stroke-width="0.3" transform="translate(273.3 434) rotate(-90)">Cumul. EPSC (nA)</text>
<line x1="316.2" y1="377.71" x2="369.16" y2="364.23" stroke="#009b4b" stroke-width="1.5"/>
<circle cx="322.82" cy="400" r="4.35" fill="#009b4b" stroke="none" stroke-width="0"/>
<circle cx="329.44" cy="389.6" r="4.35" fill="#009b4b" stroke="none" stroke-width="0"/>
<circle cx="336.06" cy="382.53" r="4.35" fill="#009b4b" stroke="none" stroke-width="0"/>
<circle cx="342.68" cy="376.71" r="4.35" fill="#009b4b" stroke="none" stroke-width="0"/>
<circle cx="349.3" cy="372.55" r="4.35" fill="#009b4b" stroke="none" stroke-width="0"/>
<circle cx="355.92" cy="368.8" r="4.35" fill="#009b4b" stroke="none" stroke-width="0"/>
<circle cx="362.54" cy="367.14" r="4.35" fill="#009b4b" stroke="none" stroke-width="0"/>
<circle cx="369.16" cy="363.4" r="4.35" fill="#009b4b" stroke="none" stroke-width="0"/>
<circle cx="375.78" cy="362.15" r="4.35" fill="#009b4b" stroke="none" stroke-width="0"/>
<circle cx="382.4" cy="360.48" r="4.35" fill="#009b4b" stroke="none" stroke-width="0"/>
<circle cx="389.02" cy="358.4" r="4.35" fill="#009b4b" stroke="none" stroke-width="0"/>
<circle cx="395.64" cy="356.74" r="4.35" fill="#009b4b" stroke="none" stroke-width="0"/>
<circle cx="402.26" cy="353.83" r="4.35" fill="#009b4b" stroke="none" stroke-width="0"/>
<circle cx="408.88" cy="352.16" r="4.35" fill="#009b4b" stroke="none" stroke-width="0"/>
<circle cx="415.5" cy="350.5" r="4.35" fill="#009b4b" stroke="none" stroke-width="0"/>
<circle cx="422.12" cy="349.25" r="4.35" fill="#009b4b" stroke="none" stroke-width="0"/>
<circle cx="428.74" cy="348" r="4.35" fill="#009b4b" stroke="none" stroke-width="0"/>
<circle cx="435.36" cy="346.76" r="4.35" fill="#009b4b" stroke="none" stroke-width="0"/>
<circle cx="441.98" cy="345.51" r="4.35" fill="#009b4b" stroke="none" stroke-width="0"/>
<circle cx="448.6" cy="344.26" r="4.35" fill="#009b4b" stroke="none" stroke-width="0"/>
<line x1="532" y1="319.1" x2="532" y2="423.2" stroke="#1a1a1a" stroke-width="1.4"/>
<line x1="524.6" y1="423.2" x2="532" y2="423.2" stroke="#1a1a1a" stroke-width="1.4"/>
<text x="511.8" y="425.8" font-size="15.3" fill="#1a1a1a" font-weight="normal" stroke="#1a1a1a" stroke-width="0.3">0</text>
<line x1="524.6" y1="388.5" x2="532" y2="388.5" stroke="#1a1a1a" stroke-width="1.4"/>
<text x="511.85" y="391.1" font-size="15.3" fill="#1a1a1a" font-weight="normal" stroke="#1a1a1a" stroke-width="0.3">5</text>
<line x1="524.6" y1="353.8" x2="532" y2="353.8" stroke="#1a1a1a" stroke-width="1.4"/>
<text x="503.3" y="356.4" font-size="15.3" fill="#1a1a1a" font-weight="normal" stroke="#1a1a1a" stroke-width="0.3">10</text>
<line x1="524.6" y1="319.1" x2="532" y2="319.1" stroke="#1a1a1a" stroke-width="1.4"/>
<text x="503.35" y="321.7" font-size="15.3" fill="#1a1a1a" font-weight="normal" stroke="#1a1a1a" stroke-width="0.3">15</text>
<line x1="538.9" y1="428.9" x2="671.2" y2="428.9" stroke="#1a1a1a" stroke-width="1.4"/>
<line x1="538.9" y1="428.9" x2="538.9" y2="435.7" stroke="#1a1a1a" stroke-width="1.4"/>
<text x="535.45" y="450.9" font-size="15.3" fill="#1a1a1a" font-weight="normal" stroke="#1a1a1a" stroke-width="0.3">0</text>
<line x1="557.8" y1="428.9" x2="557.8" y2="432.7" stroke="#1a1a1a" stroke-width="1.4"/>
<line x1="576.7" y1="428.9" x2="576.7" y2="435.7" stroke="#1a1a1a" stroke-width="1.4"/>
<text x="568.72" y="450.9" font-size="15.3" fill="#1a1a1a" font-weight="normal" stroke="#1a1a1a" stroke-width="0.3">10</text>
<line x1="595.6" y1="428.9" x2="595.6" y2="432.7" stroke="#1a1a1a" stroke-width="1.4"/>
<line x1="614.5" y1="428.9" x2="614.5" y2="435.7" stroke="#1a1a1a" stroke-width="1.4"/>
<text x="606.72" y="450.9" font-size="15.3" fill="#1a1a1a" font-weight="normal" stroke="#1a1a1a" stroke-width="0.3">20</text>
<line x1="633.4" y1="428.9" x2="633.4" y2="432.7" stroke="#1a1a1a" stroke-width="1.4"/>
<line x1="652.3" y1="428.9" x2="652.3" y2="435.7" stroke="#1a1a1a" stroke-width="1.4"/>
<text x="644.6" y="450.9" font-size="15.3" fill="#1a1a1a" font-weight="normal" stroke="#1a1a1a" stroke-width="0.3">30</text>
<line x1="671.2" y1="428.9" x2="671.2" y2="432.7" stroke="#1a1a1a" stroke-width="1.4"/>
<text x="548.3" y="476" font-size="14.7" fill="#1a1a1a" font-weight="normal" stroke="#1a1a1a" stroke-width="0.3">Dialysis time (min)</text>
<text x="0" y="0" font-size="15.43" fill="#1a1a1a" stroke="#1a1a1a" stroke-width="0.3" transform="translate(499.6 417.75) rotate(-90)">RRP size (nA)</text>
<circle cx="544.6" cy="332" r="4.4" fill="#009b4b" stroke="none" stroke-width="0"/>
<circle cx="597.5" cy="337.7" r="4.4" fill="#009b4b" stroke="none" stroke-width="0"/>
<circle cx="595.1" cy="346" r="4.4" fill="#009b4b" stroke="none" stroke-width="0"/>
<circle cx="600.5" cy="345.5" r="4.4" fill="#009b4b" stroke="none" stroke-width="0"/>
<circle cx="602.8" cy="349" r="4.4" fill="#009b4b" stroke="none" stroke-width="0"/>
<circle cx="607.6" cy="347.8" r="4.4" fill="#009b4b" stroke="none" stroke-width="0"/>
<circle cx="608.8" cy="352.6" r="4.4" fill="#009b4b" stroke="none" stroke-width="0"/>
<circle cx="610.6" cy="356.2" r="4.4" fill="#009b4b" stroke="none" stroke-width="0"/>
<circle cx="613" cy="361" r="4.4" fill="#009b4b" stroke="none" stroke-width="0"/>
<circle cx="615.9" cy="366.9" r="4.4" fill="#009b4b" stroke="none" stroke-width="0"/>
<circle cx="614.1" cy="370.4" r="4.4" fill="#009b4b" stroke="none" stroke-width="0"/>
<circle cx="619.5" cy="375.8" r="4.4" fill="#009b4b" stroke="none" stroke-width="0"/>
<circle cx="618.3" cy="377" r="4.4" fill="#009b4b" stroke="none" stroke-width="0"/>
<circle cx="621.9" cy="382.9" r="4.4" fill="#009b4b" stroke="none" stroke-width="0"/>
<circle cx="623.7" cy="391" r="4.4" fill="#009b4b" stroke="none" stroke-width="0"/>
<circle cx="625" cy="399.4" r="4.4" fill="#009b4b" stroke="none" stroke-width="0"/>
<circle cx="627.7" cy="403" r="4.4" fill="#009b4b" stroke="none" stroke-width="0"/>
<circle cx="629.5" cy="409.2" r="4.4" fill="#009b4b" stroke="none" stroke-width="0"/>
<circle cx="636.6" cy="410.1" r="4.4" fill="#009b4b" stroke="none" stroke-width="0"/>
<circle cx="640.2" cy="415.5" r="4.4" fill="#009b4b" stroke="none" stroke-width="0"/>
<circle cx="644.2" cy="412.8" r="4.4" fill="#009b4b" stroke="none" stroke-width="0"/>
<circle cx="647.3" cy="417.2" r="4.4" fill="#009b4b" stroke="none" stroke-width="0"/>
<circle cx="650.5" cy="417.2" r="4.4" fill="#009b4b" stroke="none" stroke-width="0"/>
<circle cx="654.5" cy="421.2" r="4.4" fill="#009b4b" stroke="none" stroke-width="0"/>
<circle cx="632" cy="408.5" r="4.4" fill="#009b4b" stroke="none" stroke-width="0"/>
<circle cx="64.5" cy="529.3" r="5.6" fill="#1a1a1a" stroke="none" stroke-width="0"/>
<circle cx="64.5" cy="547.2" r="4.9" fill="white" stroke="#1a1a1a" stroke-width="1.2"/>
<text x="78.35" y="534.4" font-size="12.7" fill="#1a1a1a" font-weight="normal" stroke="#1a1a1a" stroke-width="0.3">RRP size</text>
<text x="79.9" y="552.6" font-size="12.45" fill="#1a1a1a" font-weight="normal" stroke="#1a1a1a" stroke-width="0.3">Neurotransmitter release probability (Pr)</text>
<line x1="86.5" y1="570.2" x2="86.5" y2="738.1" stroke="#1a1a1a" stroke-width="1.4"/>
<line x1="75.1" y1="738.1" x2="86.5" y2="738.1" stroke="#1a1a1a" stroke-width="1.4"/>
<text x="60.15" y="742.4" font-size="15" fill="#1a1a1a" font-weight="normal" stroke="#1a1a1a" stroke-width="0.3">0</text>
<line x1="80.3" y1="714.11" x2="86.5" y2="714.11" stroke="#1a1a1a" stroke-width="1.4"/>
<line x1="75.1" y1="690.13" x2="86.5" y2="690.13" stroke="#1a1a1a" stroke-width="1.4"/>
<text x="60" y="694.43" font-size="15" fill="#1a1a1a" font-weight="normal" stroke="#1a1a1a" stroke-width="0.3">4</text>
<line x1="80.3" y1="666.14" x2="86.5" y2="666.14" stroke="#1a1a1a" stroke-width="1.4"/>
<line x1="75.1" y1="642.16" x2="86.5" y2="642.16" stroke="#1a1a1a" stroke-width="1.4"/>
<text x="60.2" y="646.46" font-size="15" fill="#1a1a1a" font-weight="normal" stroke="#1a1a1a" stroke-width="0.3">8</text>
<line x1="80.3" y1="618.17" x2="86.5" y2="618.17" stroke="#1a1a1a" stroke-width="1.4"/>
<line x1="75.1" y1="594.18" x2="86.5" y2="594.18" stroke="#1a1a1a" stroke-width="1.4"/>
<text x="51.95" y="598.48" font-size="15" fill="#1a1a1a" font-weight="normal" stroke="#1a1a1a" stroke-width="0.3">12</text>
<line x1="80.3" y1="570.2" x2="86.5" y2="570.2" stroke="#1a1a1a" stroke-width="1.4"/>
<text x="0" y="0" font-size="15.35" fill="#1a1a1a" stroke="#1a1a1a" stroke-width="0.3" transform="translate(45.3 704.25) rotate(-90)">RRP size (nA)</text>
<line x1="274.8" y1="570.4" x2="274.8" y2="737.6" stroke="#1a1a1a" stroke-width="1.4"/>
<line x1="274.8" y1="737.6" x2="286.3" y2="737.6" stroke="#1a1a1a" stroke-width="1.4"/>
<text x="292.9" y="741.9" font-size="14.9" fill="#1a1a1a" font-weight="normal" stroke="#1a1a1a" stroke-width="0.3">0.0</text>
<line x1="274.8" y1="704.16" x2="286.3" y2="704.16" stroke="#1a1a1a" stroke-width="1.4"/>
<text x="292.9" y="708.46" font-size="14.9" fill="#1a1a1a" font-weight="normal" stroke="#1a1a1a" stroke-width="0.3">0.2</text>
<line x1="274.8" y1="670.72" x2="286.3" y2="670.72" stroke="#1a1a1a" stroke-width="1.4"/>
<text x="292.9" y="675.02" font-size="14.9" fill="#1a1a1a" font-weight="normal" stroke="#1a1a1a" stroke-width="0.3">0.4</text>
<line x1="274.8" y1="637.28" x2="286.3" y2="637.28" stroke="#1a1a1a" stroke-width="1.4"/>
<text x="292.9" y="641.58" font-size="14.9" fill="#1a1a1a" font-weight="normal" stroke="#1a1a1a" stroke-width="0.3">0.6</text>
<line x1="274.8" y1="603.84" x2="286.3" y2="603.84" stroke="#1a1a1a" stroke-width="1.4"/>
<text x="292.9" y="608.14" font-size="14.9" fill="#1a1a1a" font-weight="normal" stroke="#1a1a1a" stroke-width="0.3">0.8</text>
<line x1="274.8" y1="570.4" x2="286.3" y2="570.4" stroke="#1a1a1a" stroke-width="1.4"/>
<text x="292.9" y="574.7" font-size="14.9" fill="#1a1a1a" font-weight="normal" stroke="#1a1a1a" stroke-width="0.3">1.0</text>
<text x="0" y="0" font-size="14.8" fill="#1a1a1a" stroke="#1a1a1a" stroke-width="0.3" transform="translate(327.7 647.2) rotate(90)">Pr</text>
<path d="M102.2 749.5 V738.1 H119.5" fill="none" stroke="#1a1a1a" stroke-width="1.4" stroke-linejoin="round"/>
<path d="M128.4 738.1 H258.4" fill="none" stroke="#1a1a1a" stroke-width="1.4" stroke-linejoin="round"/>
<path d="M118.6 733.2 Q120 734.5 120.4 741.5 L119.9 749.8" fill="none" stroke="#1a1a1a" stroke-width="1.5" stroke-linejoin="round"/>
<path d="M120.1 738.5 L120.9 742 L120.1 744" fill="none" stroke="#1a1a1a" stroke-width="1" stroke-linejoin="round"/>
<path d="M127.4 733.2 Q128.8 734.5 129.2 741.5 L128.7 749.8" fill="none" stroke="#1a1a1a" stroke-width="1.5" stroke-linejoin="round"/>
<path d="M128.9 738.5 L129.7 742 L128.9 744" fill="none" stroke="#1a1a1a" stroke-width="1" stroke-linejoin="round"/>
<line x1="171.8" y1="738.1" x2="171.8" y2="749.5" stroke="#1a1a1a" stroke-width="1.4"/>
<text x="163.38" y="767.8" font-size="15" fill="#1a1a1a" font-weight="normal" stroke="#1a1a1a" stroke-width="0.3">20</text>
<line x1="215.1" y1="738.1" x2="215.1" y2="749.5" stroke="#1a1a1a" stroke-width="1.4"/>
<text x="206.7" y="767.8" font-size="15" fill="#1a1a1a" font-weight="normal" stroke="#1a1a1a" stroke-width="0.3">25</text>
<line x1="258.4" y1="738.1" x2="258.4" y2="749.5" stroke="#1a1a1a" stroke-width="1.4"/>
<text x="250.05" y="767.8" font-size="15" fill="#1a1a1a" font-weight="normal" stroke="#1a1a1a" stroke-width="0.3">30</text>
<text x="98.03" y="767.8" font-size="15" fill="#1a1a1a" font-weight="normal" stroke="#1a1a1a" stroke-width="0.3">0</text>
<text x="115.42" y="767.8" font-size="15" fill="#1a1a1a" font-weight="normal" stroke="#1a1a1a" stroke-width="0.3">1</text>
<text x="128.15" y="767.8" font-size="15" fill="#1a1a1a" font-weight="normal" stroke="#1a1a1a" stroke-width="0.3">15</text>
<text x="157.05" y="789.6" font-size="15.4" fill="#1a1a1a" font-weight="normal" stroke="#1a1a1a" stroke-width="0.3">Time (min)</text>
<path d="M127.8 643.5 L133 648 L140 650 L150.6 651.7 L160.7 650.6 L175 650 L186 651 L196.3 649.5 L202.3 655 L207.5 650.4 L222 655.6 L229.3 657.7 L236.6 652.5 L243.9 655.6 L251.2 659.8 L256.4 660.8 L259 660 L259 682.6 L256.4 682.6 L248 681.6 L242.8 678.5 L236.6 673.3 L229.3 676.4 L222 673.3 L215.8 670.2 L210.6 674.3 L204.4 670.2 L198.6 669.5 L191.9 668.4 L184.1 670.7 L174 668.4 L167.3 672.9 L156.2 666.2 L149.5 671.8 L145.1 663 L133.9 665.1 L128.3 662.9 Z" fill="#bababa" stroke="none" stroke-width="0" stroke-linejoin="round"/>
<line x1="102.9" y1="582.3" x2="102.9" y2="615.6" stroke="#1a1a1a" stroke-width="1.4"/>
<line x1="100" y1="582.3" x2="105.8" y2="582.3" stroke="#1a1a1a" stroke-width="1.4"/>
<line x1="100" y1="615.6" x2="105.8" y2="615.6" stroke="#1a1a1a" stroke-width="1.4"/>
<circle cx="102.9" cy="599.2" r="5.75" fill="#1a1a1a" stroke="none" stroke-width="0"/>
<circle cx="102.9" cy="682.9" r="4.9" fill="none" stroke="#1a1a1a" stroke-width="1.1"/>
<line x1="102.9" y1="679.3" x2="102.9" y2="687" stroke="#1a1a1a" stroke-width="1.1"/>
<line x1="100.7" y1="679.3" x2="105.1" y2="679.3" stroke="#1a1a1a" stroke-width="1.1"/>
<line x1="100.7" y1="687" x2="105.1" y2="687" stroke="#1a1a1a" stroke-width="1.1"/>
<circle cx="127.2" cy="656.2" r="5.1" fill="#1a1a1a" stroke="none" stroke-width="0"/>
<circle cx="131.7" cy="657.3" r="5.1" fill="#1a1a1a" stroke="none" stroke-width="0"/>
<circle cx="136.1" cy="656.7" r="5.1" fill="#1a1a1a" stroke="none" stroke-width="0"/>
<circle cx="140.6" cy="656.2" r="5.1" fill="#1a1a1a" stroke="none" stroke-width="0"/>
<circle cx="145.1" cy="657.3" r="5.1" fill="#1a1a1a" stroke="none" stroke-width="0"/>
<circle cx="149.5" cy="661.7" r="5.1" fill="#1a1a1a" stroke="none" stroke-width="0"/>
<circle cx="154" cy="657.3" r="5.1" fill="#1a1a1a" stroke="none" stroke-width="0"/>
<circle cx="158.4" cy="654.5" r="5.1" fill="#1a1a1a" stroke="none" stroke-width="0"/>
<circle cx="162.9" cy="656.2" r="5.1" fill="#1a1a1a" stroke="none" stroke-width="0"/>
<circle cx="167.3" cy="660.6" r="5.1" fill="#1a1a1a" stroke="none" stroke-width="0"/>
<circle cx="171.8" cy="659.5" r="5.1" fill="#1a1a1a" stroke="none" stroke-width="0"/>
<circle cx="176.3" cy="656.7" r="5.1" fill="#1a1a1a" stroke="none" stroke-width="0"/>
<circle cx="180.7" cy="657.8" r="5.1" fill="#1a1a1a" stroke="none" stroke-width="0"/>
<circle cx="185.2" cy="661.7" r="5.1" fill="#1a1a1a" stroke="none" stroke-width="0"/>
<circle cx="189.6" cy="660.1" r="5.1" fill="#1a1a1a" stroke="none" stroke-width="0"/>
<circle cx="194.1" cy="657.3" r="5.1" fill="#1a1a1a" stroke="none" stroke-width="0"/>
<circle cx="198.6" cy="660.6" r="5.1" fill="#1a1a1a" stroke="none" stroke-width="0"/>
<circle cx="202.3" cy="665" r="5.1" fill="#1a1a1a" stroke="none" stroke-width="0"/>
<circle cx="206.4" cy="660.8" r="5.1" fill="#1a1a1a" stroke="none" stroke-width="0"/>
<circle cx="211.1" cy="663.4" r="5.1" fill="#1a1a1a" stroke="none" stroke-width="0"/>
<circle cx="215.8" cy="660.8" r="5.1" fill="#1a1a1a" stroke="none" stroke-width="0"/>
<circle cx="220" cy="665.5" r="5.1" fill="#1a1a1a" stroke="none" stroke-width="0"/>
<circle cx="224.1" cy="668.1" r="5.1" fill="#1a1a1a" stroke="none" stroke-width="0"/>
<circle cx="228.3" cy="670.2" r="5.1" fill="#1a1a1a" stroke="none" stroke-width="0"/>
<circle cx="232.4" cy="667" r="5.1" fill="#1a1a1a" stroke="none" stroke-width="0"/>
<circle cx="236.6" cy="662.9" r="5.1" fill="#1a1a1a" stroke="none" stroke-width="0"/>
<circle cx="240.8" cy="663.9" r="5.1" fill="#1a1a1a" stroke="none" stroke-width="0"/>
<circle cx="244.9" cy="670.2" r="5.1" fill="#1a1a1a" stroke="none" stroke-width="0"/>
<circle cx="249.1" cy="671.2" r="5.1" fill="#1a1a1a" stroke="none" stroke-width="0"/>
<circle cx="253.2" cy="670.2" r="5.1" fill="#1a1a1a" stroke="none" stroke-width="0"/>
<circle cx="256.9" cy="671.2" r="5.1" fill="#1a1a1a" stroke="none" stroke-width="0"/>
<circle cx="259" cy="659.2" r="5.1" fill="#1a1a1a" stroke="none" stroke-width="0"/>
<line x1="128.5" y1="659.2" x2="128.5" y2="672.2" stroke="#1a1a1a" stroke-width="1.25"/>
<line x1="125.2" y1="659.2" x2="131.8" y2="659.2" stroke="#1a1a1a" stroke-width="1.25"/>
<line x1="125.2" y1="672.2" x2="131.8" y2="672.2" stroke="#1a1a1a" stroke-width="1.25"/>
<circle cx="128.5" cy="665.7" r="3.9" fill="none" stroke="#1a1a1a" stroke-width="1.1"/>
<line x1="132.83" y1="648" x2="132.83" y2="660" stroke="#1a1a1a" stroke-width="1.25"/>
<line x1="129.53" y1="648" x2="136.13" y2="648" stroke="#1a1a1a" stroke-width="1.25"/>
<line x1="129.53" y1="660" x2="136.13" y2="660" stroke="#1a1a1a" stroke-width="1.25"/>
<circle cx="132.83" cy="654" r="3.9" fill="none" stroke="#1a1a1a" stroke-width="1.1"/>
<line x1="137.16" y1="642.98" x2="137.16" y2="654.98" stroke="#1a1a1a" stroke-width="1.25"/>
<line x1="133.86" y1="642.98" x2="140.46" y2="642.98" stroke="#1a1a1a" stroke-width="1.25"/>
<line x1="133.86" y1="654.98" x2="140.46" y2="654.98" stroke="#1a1a1a" stroke-width="1.25"/>
<circle cx="137.16" cy="648.98" r="3.9" fill="none" stroke="#1a1a1a" stroke-width="1.1"/>
<line x1="141.49" y1="640.81" x2="141.49" y2="653.81" stroke="#1a1a1a" stroke-width="1.25"/>
<line x1="138.19" y1="640.81" x2="144.79" y2="640.81" stroke="#1a1a1a" stroke-width="1.25"/>
<line x1="138.19" y1="653.81" x2="144.79" y2="653.81" stroke="#1a1a1a" stroke-width="1.25"/>
<circle cx="141.49" cy="647.31" r="3.9" fill="none" stroke="#1a1a1a" stroke-width="1.1"/>
<line x1="145.82" y1="637.8" x2="145.82" y2="651.8" stroke="#1a1a1a" stroke-width="1.25"/>
<line x1="142.52" y1="637.8" x2="149.12" y2="637.8" stroke="#1a1a1a" stroke-width="1.25"/>
<line x1="142.52" y1="651.8" x2="149.12" y2="651.8" stroke="#1a1a1a" stroke-width="1.25"/>
<circle cx="145.82" cy="644.8" r="3.9" fill="none" stroke="#1a1a1a" stroke-width="1.1"/>
<line x1="150.15" y1="634.13" x2="150.15" y2="648.13" stroke="#1a1a1a" stroke-width="1.25"/>
<line x1="146.85" y1="634.13" x2="153.45" y2="634.13" stroke="#1a1a1a" stroke-width="1.25"/>
<line x1="146.85" y1="648.13" x2="153.45" y2="648.13" stroke="#1a1a1a" stroke-width="1.25"/>
<circle cx="150.15" cy="641.13" r="3.9" fill="none" stroke="#1a1a1a" stroke-width="1.1"/>
<line x1="154.48" y1="634.46" x2="154.48" y2="648.46" stroke="#1a1a1a" stroke-width="1.25"/>
<line x1="151.18" y1="634.46" x2="157.78" y2="634.46" stroke="#1a1a1a" stroke-width="1.25"/>
<line x1="151.18" y1="648.46" x2="157.78" y2="648.46" stroke="#1a1a1a" stroke-width="1.25"/>
<circle cx="154.48" cy="641.46" r="3.9" fill="none" stroke="#1a1a1a" stroke-width="1.1"/>
<line x1="158.81" y1="635.3" x2="158.81" y2="649.3" stroke="#1a1a1a" stroke-width="1.25"/>
<line x1="155.51" y1="635.3" x2="162.11" y2="635.3" stroke="#1a1a1a" stroke-width="1.25"/>
<line x1="155.51" y1="649.3" x2="162.11" y2="649.3" stroke="#1a1a1a" stroke-width="1.25"/>
<circle cx="158.81" cy="642.3" r="3.9" fill="none" stroke="#1a1a1a" stroke-width="1.1"/>
<line x1="163.14" y1="633.12" x2="163.14" y2="648.12" stroke="#1a1a1a" stroke-width="1.25"/>
<line x1="159.84" y1="633.12" x2="166.44" y2="633.12" stroke="#1a1a1a" stroke-width="1.25"/>
<line x1="159.84" y1="648.12" x2="166.44" y2="648.12" stroke="#1a1a1a" stroke-width="1.25"/>
<circle cx="163.14" cy="640.62" r="3.9" fill="none" stroke="#1a1a1a" stroke-width="1.1"/>
<line x1="167.47" y1="620.43" x2="167.47" y2="645.43" stroke="#1a1a1a" stroke-width="1.25"/>
<line x1="164.17" y1="620.43" x2="170.77" y2="620.43" stroke="#1a1a1a" stroke-width="1.25"/>
<line x1="164.17" y1="645.43" x2="170.77" y2="645.43" stroke="#1a1a1a" stroke-width="1.25"/>
<circle cx="167.47" cy="632.93" r="3.9" fill="none" stroke="#1a1a1a" stroke-width="1.1"/>
<line x1="171.8" y1="634.3" x2="171.8" y2="650.3" stroke="#1a1a1a" stroke-width="1.25"/>
<line x1="168.5" y1="634.3" x2="175.1" y2="634.3" stroke="#1a1a1a" stroke-width="1.25"/>
<line x1="168.5" y1="650.3" x2="175.1" y2="650.3" stroke="#1a1a1a" stroke-width="1.25"/>
<circle cx="171.8" cy="642.3" r="3.9" fill="none" stroke="#1a1a1a" stroke-width="1.1"/>
<line x1="176.13" y1="635.13" x2="176.13" y2="651.13" stroke="#1a1a1a" stroke-width="1.25"/>
<line x1="172.83" y1="635.13" x2="179.43" y2="635.13" stroke="#1a1a1a" stroke-width="1.25"/>
<line x1="172.83" y1="651.13" x2="179.43" y2="651.13" stroke="#1a1a1a" stroke-width="1.25"/>
<circle cx="176.13" cy="643.13" r="3.9" fill="none" stroke="#1a1a1a" stroke-width="1.1"/>
<line x1="180.46" y1="634.3" x2="180.46" y2="650.3" stroke="#1a1a1a" stroke-width="1.25"/>
<line x1="177.16" y1="634.3" x2="183.76" y2="634.3" stroke="#1a1a1a" stroke-width="1.25"/>
<line x1="177.16" y1="650.3" x2="183.76" y2="650.3" stroke="#1a1a1a" stroke-width="1.25"/>
<circle cx="180.46" cy="642.3" r="3.9" fill="none" stroke="#1a1a1a" stroke-width="1.1"/>
<line x1="184.79" y1="634.3" x2="184.79" y2="650.3" stroke="#1a1a1a" stroke-width="1.25"/>
<line x1="181.49" y1="634.3" x2="188.09" y2="634.3" stroke="#1a1a1a" stroke-width="1.25"/>
<line x1="181.49" y1="650.3" x2="188.09" y2="650.3" stroke="#1a1a1a" stroke-width="1.25"/>
<circle cx="184.79" cy="642.3" r="3.9" fill="none" stroke="#1a1a1a" stroke-width="1.1"/>
<line x1="189.12" y1="632.96" x2="189.12" y2="649.96" stroke="#1a1a1a" stroke-width="1.25"/>
<line x1="185.82" y1="632.96" x2="192.42" y2="632.96" stroke="#1a1a1a" stroke-width="1.25"/>
<line x1="185.82" y1="649.96" x2="192.42" y2="649.96" stroke="#1a1a1a" stroke-width="1.25"/>
<circle cx="189.12" cy="641.46" r="3.9" fill="none" stroke="#1a1a1a" stroke-width="1.1"/>
<line x1="193.45" y1="630.79" x2="193.45" y2="648.79" stroke="#1a1a1a" stroke-width="1.25"/>
<line x1="190.15" y1="630.79" x2="196.75" y2="630.79" stroke="#1a1a1a" stroke-width="1.25"/>
<line x1="190.15" y1="648.79" x2="196.75" y2="648.79" stroke="#1a1a1a" stroke-width="1.25"/>
<circle cx="193.45" cy="639.79" r="3.9" fill="none" stroke="#1a1a1a" stroke-width="1.1"/>
<line x1="197.78" y1="630.79" x2="197.78" y2="648.79" stroke="#1a1a1a" stroke-width="1.25"/>
<line x1="194.48" y1="630.79" x2="201.08" y2="630.79" stroke="#1a1a1a" stroke-width="1.25"/>
<line x1="194.48" y1="648.79" x2="201.08" y2="648.79" stroke="#1a1a1a" stroke-width="1.25"/>
<circle cx="197.78" cy="639.79" r="3.9" fill="none" stroke="#1a1a1a" stroke-width="1.1"/>
<line x1="202.11" y1="630.79" x2="202.11" y2="648.79" stroke="#1a1a1a" stroke-width="1.25"/>
<line x1="198.81" y1="630.79" x2="205.41" y2="630.79" stroke="#1a1a1a" stroke-width="1.25"/>
<line x1="198.81" y1="648.79" x2="205.41" y2="648.79" stroke="#1a1a1a" stroke-width="1.25"/>
<circle cx="202.11" cy="639.79" r="3.9" fill="none" stroke="#1a1a1a" stroke-width="1.1"/>
<line x1="206.44" y1="630.79" x2="206.44" y2="648.79" stroke="#1a1a1a" stroke-width="1.25"/>
<line x1="203.14" y1="630.79" x2="209.74" y2="630.79" stroke="#1a1a1a" stroke-width="1.25"/>
<line x1="203.14" y1="648.79" x2="209.74" y2="648.79" stroke="#1a1a1a" stroke-width="1.25"/>
<circle cx="206.44" cy="639.79" r="3.9" fill="none" stroke="#1a1a1a" stroke-width="1.1"/>
<line x1="210.77" y1="632.12" x2="210.77" y2="649.12" stroke="#1a1a1a" stroke-width="1.25"/>
<line x1="207.47" y1="632.12" x2="214.07" y2="632.12" stroke="#1a1a1a" stroke-width="1.25"/>
<line x1="207.47" y1="649.12" x2="214.07" y2="649.12" stroke="#1a1a1a" stroke-width="1.25"/>
<circle cx="210.77" cy="640.62" r="3.9" fill="none" stroke="#1a1a1a" stroke-width="1.1"/>
<line x1="215.1" y1="635.97" x2="215.1" y2="651.97" stroke="#1a1a1a" stroke-width="1.25"/>
<line x1="211.8" y1="635.97" x2="218.4" y2="635.97" stroke="#1a1a1a" stroke-width="1.25"/>
<line x1="211.8" y1="651.97" x2="218.4" y2="651.97" stroke="#1a1a1a" stroke-width="1.25"/>
<circle cx="215.1" cy="643.97" r="3.9" fill="none" stroke="#1a1a1a" stroke-width="1.1"/>
<line x1="219.43" y1="637.3" x2="219.43" y2="652.3" stroke="#1a1a1a" stroke-width="1.25"/>
<line x1="216.13" y1="637.3" x2="222.73" y2="637.3" stroke="#1a1a1a" stroke-width="1.25"/>
<line x1="216.13" y1="652.3" x2="222.73" y2="652.3" stroke="#1a1a1a" stroke-width="1.25"/>
<circle cx="219.43" cy="644.8" r="3.9" fill="none" stroke="#1a1a1a" stroke-width="1.1"/>
<line x1="223.76" y1="637.3" x2="223.76" y2="652.3" stroke="#1a1a1a" stroke-width="1.25"/>
<line x1="220.46" y1="637.3" x2="227.06" y2="637.3" stroke="#1a1a1a" stroke-width="1.25"/>
<line x1="220.46" y1="652.3" x2="227.06" y2="652.3" stroke="#1a1a1a" stroke-width="1.25"/>
<circle cx="223.76" cy="644.8" r="3.9" fill="none" stroke="#1a1a1a" stroke-width="1.1"/>
<line x1="228.09" y1="635.97" x2="228.09" y2="651.97" stroke="#1a1a1a" stroke-width="1.25"/>
<line x1="224.79" y1="635.97" x2="231.39" y2="635.97" stroke="#1a1a1a" stroke-width="1.25"/>
<line x1="224.79" y1="651.97" x2="231.39" y2="651.97" stroke="#1a1a1a" stroke-width="1.25"/>
<circle cx="228.09" cy="643.97" r="3.9" fill="none" stroke="#1a1a1a" stroke-width="1.1"/>
<line x1="232.42" y1="634.63" x2="232.42" y2="651.63" stroke="#1a1a1a" stroke-width="1.25"/>
<line x1="229.12" y1="634.63" x2="235.72" y2="634.63" stroke="#1a1a1a" stroke-width="1.25"/>
<line x1="229.12" y1="651.63" x2="235.72" y2="651.63" stroke="#1a1a1a" stroke-width="1.25"/>
<circle cx="232.42" cy="643.13" r="3.9" fill="none" stroke="#1a1a1a" stroke-width="1.1"/>
<line x1="236.75" y1="632.46" x2="236.75" y2="650.46" stroke="#1a1a1a" stroke-width="1.25"/>
<line x1="233.45" y1="632.46" x2="240.05" y2="632.46" stroke="#1a1a1a" stroke-width="1.25"/>
<line x1="233.45" y1="650.46" x2="240.05" y2="650.46" stroke="#1a1a1a" stroke-width="1.25"/>
<circle cx="236.75" cy="641.46" r="3.9" fill="none" stroke="#1a1a1a" stroke-width="1.1"/>
<line x1="241.08" y1="635.13" x2="241.08" y2="651.13" stroke="#1a1a1a" stroke-width="1.25"/>
<line x1="237.78" y1="635.13" x2="244.38" y2="635.13" stroke="#1a1a1a" stroke-width="1.25"/>
<line x1="237.78" y1="651.13" x2="244.38" y2="651.13" stroke="#1a1a1a" stroke-width="1.25"/>
<circle cx="241.08" cy="643.13" r="3.9" fill="none" stroke="#1a1a1a" stroke-width="1.1"/>
<line x1="245.41" y1="637.8" x2="245.41" y2="651.8" stroke="#1a1a1a" stroke-width="1.25"/>
<line x1="242.11" y1="637.8" x2="248.71" y2="637.8" stroke="#1a1a1a" stroke-width="1.25"/>
<line x1="242.11" y1="651.8" x2="248.71" y2="651.8" stroke="#1a1a1a" stroke-width="1.25"/>
<circle cx="245.41" cy="644.8" r="3.9" fill="none" stroke="#1a1a1a" stroke-width="1.1"/>
<line x1="249.74" y1="637.8" x2="249.74" y2="651.8" stroke="#1a1a1a" stroke-width="1.25"/>
<line x1="246.44" y1="637.8" x2="253.04" y2="637.8" stroke="#1a1a1a" stroke-width="1.25"/>
<line x1="246.44" y1="651.8" x2="253.04" y2="651.8" stroke="#1a1a1a" stroke-width="1.25"/>
<circle cx="249.74" cy="644.8" r="3.9" fill="none" stroke="#1a1a1a" stroke-width="1.1"/>
<line x1="254.07" y1="638.64" x2="254.07" y2="652.64" stroke="#1a1a1a" stroke-width="1.25"/>
<line x1="250.77" y1="638.64" x2="257.37" y2="638.64" stroke="#1a1a1a" stroke-width="1.25"/>
<line x1="250.77" y1="652.64" x2="257.37" y2="652.64" stroke="#1a1a1a" stroke-width="1.25"/>
<circle cx="254.07" cy="645.64" r="3.9" fill="none" stroke="#1a1a1a" stroke-width="1.1"/>
<line x1="258.4" y1="640.48" x2="258.4" y2="652.48" stroke="#1a1a1a" stroke-width="1.25"/>
<line x1="255.1" y1="640.48" x2="261.7" y2="640.48" stroke="#1a1a1a" stroke-width="1.25"/>
<line x1="255.1" y1="652.48" x2="261.7" y2="652.48" stroke="#1a1a1a" stroke-width="1.25"/>
<circle cx="258.4" cy="646.48" r="3.9" fill="none" stroke="#1a1a1a" stroke-width="1.1"/>
<text x="162.85" y="612.7" font-size="15.9" fill="#1a1a1a" font-weight="normal" stroke="#1a1a1a" stroke-width="0.3">n.s.</text>
<text x="244.95" y="626.9" font-size="15.9" fill="#1a1a1a" font-weight="normal" stroke="#1a1a1a" stroke-width="0.3">n.s.</text>
<text x="162.85" y="687.1" font-size="15.9" fill="#1a1a1a" font-weight="normal" stroke="#1a1a1a" stroke-width="0.3">n.s.</text>
<text x="235.85" y="697.8" font-size="15.9" fill="#1a1a1a" font-weight="normal" stroke="#1a1a1a" stroke-width="0.3">n.s.</text>
<circle cx="402.5" cy="529.3" r="5.6" fill="#009b4b" stroke="none" stroke-width="0"/>
<circle cx="402.5" cy="547.2" r="4.9" fill="white" stroke="#009b4b" stroke-width="1.2"/>
<text x="416.35" y="534.4" font-size="12.7" fill="#009b4b" font-weight="normal" stroke="#009b4b" stroke-width="0.3">RRP size</text>
<text x="417.9" y="552.6" font-size="12.45" fill="#009b4b" font-weight="normal" stroke="#009b4b" stroke-width="0.3">Neurotransmitter release probability (Pr)</text>
<line x1="424.5" y1="570.2" x2="424.5" y2="738.1" stroke="#1a1a1a" stroke-width="1.4"/>
<line x1="413.1" y1="738.1" x2="424.5" y2="738.1" stroke="#1a1a1a" stroke-width="1.4"/>
<text x="398.15" y="742.4" font-size="15" fill="#1a1a1a" font-weight="normal" stroke="#1a1a1a" stroke-width="0.3">0</text>
<line x1="418.3" y1="714.11" x2="424.5" y2="714.11" stroke="#1a1a1a" stroke-width="1.4"/>
<line x1="413.1" y1="690.13" x2="424.5" y2="690.13" stroke="#1a1a1a" stroke-width="1.4"/>
<text x="398" y="694.43" font-size="15" fill="#1a1a1a" font-weight="normal" stroke="#1a1a1a" stroke-width="0.3">4</text>
<line x1="418.3" y1="666.14" x2="424.5" y2="666.14" stroke="#1a1a1a" stroke-width="1.4"/>
<line x1="413.1" y1="642.16" x2="424.5" y2="642.16" stroke="#1a1a1a" stroke-width="1.4"/>
<text x="398.2" y="646.46" font-size="15" fill="#1a1a1a" font-weight="normal" stroke="#1a1a1a" stroke-width="0.3">8</text>
<line x1="418.3" y1="618.17" x2="424.5" y2="618.17" stroke="#1a1a1a" stroke-width="1.4"/>
<line x1="413.1" y1="594.18" x2="424.5" y2="594.18" stroke="#1a1a1a" stroke-width="1.4"/>
<text x="389.95" y="598.48" font-size="15" fill="#1a1a1a" font-weight="normal" stroke="#1a1a1a" stroke-width="0.3">12</text>
<line x1="418.3" y1="570.2" x2="424.5" y2="570.2" stroke="#1a1a1a" stroke-width="1.4"/>
<text x="0" y="0" font-size="15.35" fill="#1a1a1a" stroke="#1a1a1a" stroke-width="0.3" transform="translate(383.3 704.25) rotate(-90)">RRP size (nA)</text>
<line x1="612.8" y1="570.4" x2="612.8" y2="737.6" stroke="#1a1a1a" stroke-width="1.4"/>
<line x1="612.8" y1="737.6" x2="624.3" y2="737.6" stroke="#1a1a1a" stroke-width="1.4"/>
<text x="630.9" y="741.9" font-size="14.9" fill="#1a1a1a" font-weight="normal" stroke="#1a1a1a" stroke-width="0.3">0.0</text>
<line x1="612.8" y1="704.16" x2="624.3" y2="704.16" stroke="#1a1a1a" stroke-width="1.4"/>
<text x="630.9" y="708.46" font-size="14.9" fill="#1a1a1a" font-weight="normal" stroke="#1a1a1a" stroke-width="0.3">0.2</text>
<line x1="612.8" y1="670.72" x2="624.3" y2="670.72" stroke="#1a1a1a" stroke-width="1.4"/>
<text x="630.9" y="675.02" font-size="14.9" fill="#1a1a1a" font-weight="normal" stroke="#1a1a1a" stroke-width="0.3">0.4</text>
<line x1="612.8" y1="637.28" x2="624.3" y2="637.28" stroke="#1a1a1a" stroke-width="1.4"/>
<text x="630.9" y="641.58" font-size="14.9" fill="#1a1a1a" font-weight="normal" stroke="#1a1a1a" stroke-width="0.3">0.6</text>
<line x1="612.8" y1="603.84" x2="624.3" y2="603.84" stroke="#1a1a1a" stroke-width="1.4"/>
<text x="630.9" y="608.14" font-size="14.9" fill="#1a1a1a" font-weight="normal" stroke="#1a1a1a" stroke-width="0.3">0.8</text>
<line x1="612.8" y1="570.4" x2="624.3" y2="570.4" stroke="#1a1a1a" stroke-width="1.4"/>
<text x="630.9" y="574.7" font-size="14.9" fill="#1a1a1a" font-weight="normal" stroke="#1a1a1a" stroke-width="0.3">1.0</text>
<text x="0" y="0" font-size="14.8" fill="#1a1a1a" stroke="#1a1a1a" stroke-width="0.3" transform="translate(661.6 647.2) rotate(90)">Pr</text>
<path d="M440.2 749.5 V738.1 H457.5" fill="none" stroke="#1a1a1a" stroke-width="1.4" stroke-linejoin="round"/>
<path d="M466.4 738.1 H596" fill="none" stroke="#1a1a1a" stroke-width="1.4" stroke-linejoin="round"/>
<path d="M456.6 733.2 Q458 734.5 458.4 741.5 L457.9 749.8" fill="none" stroke="#1a1a1a" stroke-width="1.5" stroke-linejoin="round"/>
<path d="M458.1 738.5 L458.9 742 L458.1 744" fill="none" stroke="#1a1a1a" stroke-width="1" stroke-linejoin="round"/>
<path d="M465.4 733.2 Q466.8 734.5 467.2 741.5 L466.7 749.8" fill="none" stroke="#1a1a1a" stroke-width="1.5" stroke-linejoin="round"/>
<path d="M466.9 738.5 L467.7 742 L466.9 744" fill="none" stroke="#1a1a1a" stroke-width="1" stroke-linejoin="round"/>
<line x1="509.8" y1="738.1" x2="509.8" y2="749.5" stroke="#1a1a1a" stroke-width="1.4"/>
<text x="501.38" y="767.8" font-size="15" fill="#1a1a1a" font-weight="normal" stroke="#1a1a1a" stroke-width="0.3">20</text>
<line x1="553.1" y1="738.1" x2="553.1" y2="749.5" stroke="#1a1a1a" stroke-width="1.4"/>
<text x="544.7" y="767.8" font-size="15" fill="#1a1a1a" font-weight="normal" stroke="#1a1a1a" stroke-width="0.3">25</text>
<line x1="596.4" y1="738.1" x2="596.4" y2="749.5" stroke="#1a1a1a" stroke-width="1.4"/>
<text x="588.05" y="767.8" font-size="15" fill="#1a1a1a" font-weight="normal" stroke="#1a1a1a" stroke-width="0.3">30</text>
<text x="436.02" y="767.8" font-size="15" fill="#1a1a1a" font-weight="normal" stroke="#1a1a1a" stroke-width="0.3">0</text>
<text x="453.43" y="767.8" font-size="15" fill="#1a1a1a" font-weight="normal" stroke="#1a1a1a" stroke-width="0.3">1</text>
<text x="464.35" y="767.8" font-size="15" fill="#1a1a1a" font-weight="normal" stroke="#1a1a1a" stroke-width="0.3">15</text>
<text x="495.05" y="789.6" font-size="15.4" fill="#1a1a1a" font-weight="normal" stroke="#1a1a1a" stroke-width="0.3">Time (min)</text>
<path d="M465.7 625.5 L470.5 623 L476.7 626.3 L481.9 625.8 L490 636 L500 648.9 L510 655 L519.3 659.3 L526.7 654.1 L534.2 660.8 L540.1 651.9 L549 666.7 L556.5 647.4 L565.4 669.7 L570.6 648.2 L576.5 674.2 L584 684.6 L584 718.8 L574.3 708.4 L566.9 709.1 L562.4 703.9 L555 699.4 L549 703.9 L541.6 689 L538.6 692 L531.2 700.9 L526.7 684.6 L520.8 692 L514.9 680.1 L505.9 669.7 L500 665.3 L497.5 667.4 L492.3 665.3 L489.2 659.1 L484 653.9 L475 650 L465.7 649.5 Z" fill="#c6e6d2" stroke="none" stroke-width="0" stroke-linejoin="round"/>
<line x1="440.9" y1="580.9" x2="440.9" y2="612.2" stroke="#009b4b" stroke-width="1.4"/>
<line x1="438" y1="580.9" x2="443.8" y2="580.9" stroke="#009b4b" stroke-width="1.4"/>
<line x1="438" y1="612.2" x2="443.8" y2="612.2" stroke="#009b4b" stroke-width="1.4"/>
<circle cx="440.9" cy="596.3" r="5.75" fill="#009b4b" stroke="none" stroke-width="0"/>
<circle cx="440.9" cy="682" r="4.9" fill="none" stroke="#009b4b" stroke-width="1.1"/>
<line x1="440.9" y1="678.5" x2="440.9" y2="686" stroke="#009b4b" stroke-width="1.1"/>
<line x1="438.7" y1="678.5" x2="443.1" y2="678.5" stroke="#009b4b" stroke-width="1.1"/>
<line x1="438.7" y1="686" x2="443.1" y2="686" stroke="#009b4b" stroke-width="1.1"/>
<path d="M465.7 639.9 L470.1 636.4 L474.5 638.7 L478.9 641.1 L483.3 641.1 L487.7 642.3 L492.1 650.6 L496.5 645.9 L500.9 650.6 L505.3 661.3 L509.7 663.7 L514.1 661.3 L518.5 674.4 L522.9 675.6 L527.3 669.6 L531.7 691 L536.1 673.2 L540.5 670.8 L544.9 678 L549.3 686.3 L553.7 672 L558.1 670.8 L562.5 686.3 L566.9 687.5 L571.3 674.4 L575.7 689.9 L580.1 700.6 L584.5 700.6" fill="none" stroke="#009b4b" stroke-width="1.4" stroke-linejoin="round"/>
<circle cx="465.7" cy="639.9" r="4.6" fill="#009b4b" stroke="none" stroke-width="0"/>
<circle cx="470.1" cy="636.4" r="4.6" fill="#009b4b" stroke="none" stroke-width="0"/>
<circle cx="474.5" cy="638.7" r="4.6" fill="#009b4b" stroke="none" stroke-width="0"/>
<circle cx="478.9" cy="641.1" r="4.6" fill="#009b4b" stroke="none" stroke-width="0"/>
<circle cx="483.3" cy="641.1" r="4.6" fill="#009b4b" stroke="none" stroke-width="0"/>
<circle cx="487.7" cy="642.3" r="4.6" fill="#009b4b" stroke="none" stroke-width="0"/>
<circle cx="492.1" cy="650.6" r="4.6" fill="#009b4b" stroke="none" stroke-width="0"/>
<circle cx="496.5" cy="645.9" r="4.6" fill="#009b4b" stroke="none" stroke-width="0"/>
<circle cx="500.9" cy="650.6" r="4.6" fill="#009b4b" stroke="none" stroke-width="0"/>
<circle cx="505.3" cy="661.3" r="4.6" fill="#009b4b" stroke="none" stroke-width="0"/>
<circle cx="509.7" cy="663.7" r="4.6" fill="#009b4b" stroke="none" stroke-width="0"/>
<circle cx="514.1" cy="661.3" r="4.6" fill="#009b4b" stroke="none" stroke-width="0"/>
<circle cx="518.5" cy="674.4" r="4.6" fill="#009b4b" stroke="none" stroke-width="0"/>
<circle cx="522.9" cy="675.6" r="4.6" fill="#009b4b" stroke="none" stroke-width="0"/>
<circle cx="527.3" cy="669.6" r="4.6" fill="#009b4b" stroke="none" stroke-width="0"/>
<circle cx="531.7" cy="691" r="4.6" fill="#009b4b" stroke="none" stroke-width="0"/>
<circle cx="536.1" cy="673.2" r="4.6" fill="#009b4b" stroke="none" stroke-width="0"/>
<circle cx="540.5" cy="670.8" r="4.6" fill="#009b4b" stroke="none" stroke-width="0"/>
<circle cx="544.9" cy="678" r="4.6" fill="#009b4b" stroke="none" stroke-width="0"/>
<circle cx="549.3" cy="686.3" r="4.6" fill="#009b4b" stroke="none" stroke-width="0"/>
<circle cx="553.7" cy="672" r="4.6" fill="#009b4b" stroke="none" stroke-width="0"/>
<circle cx="558.1" cy="670.8" r="4.6" fill="#009b4b" stroke="none" stroke-width="0"/>
<circle cx="562.5" cy="686.3" r="4.6" fill="#009b4b" stroke="none" stroke-width="0"/>
<circle cx="566.9" cy="687.5" r="4.6" fill="#009b4b" stroke="none" stroke-width="0"/>
<circle cx="571.3" cy="674.4" r="4.6" fill="#009b4b" stroke="none" stroke-width="0"/>
<circle cx="575.7" cy="689.9" r="4.6" fill="#009b4b" stroke="none" stroke-width="0"/>
<circle cx="580.1" cy="700.6" r="4.6" fill="#009b4b" stroke="none" stroke-width="0"/>
<circle cx="584.5" cy="700.6" r="4.6" fill="#009b4b" stroke="none" stroke-width="0"/>
<path d="M465.7 653.4 L470.1 651 L474.5 650 L478.9 650 L483.3 650 L487.7 649 L492.1 642 L496.5 636 L500.9 639 L505.3 633 L509.7 636 L514.1 629 L518.5 634 L522.9 624 L527.3 632 L531.7 624 L536.1 633 L540.5 626 L544.9 630 L549.3 623 L553.7 633 L558.1 625 L562.5 622 L566.9 634 L571.3 628 L575.7 634 L580.1 632 L584.5 633" fill="none" stroke="#009b4b" stroke-width="1.1" stroke-linejoin="round"/>
<line x1="465.7" y1="645.9" x2="465.7" y2="660.9" stroke="#009b4b" stroke-width="1.25"/>
<line x1="462.4" y1="645.9" x2="469" y2="645.9" stroke="#009b4b" stroke-width="1.25"/>
<line x1="462.4" y1="660.9" x2="469" y2="660.9" stroke="#009b4b" stroke-width="1.25"/>
<circle cx="465.7" cy="653.4" r="3.9" fill="none" stroke="#009b4b" stroke-width="1.1"/>
<line x1="470.1" y1="645" x2="470.1" y2="657" stroke="#009b4b" stroke-width="1.25"/>
<line x1="466.8" y1="645" x2="473.4" y2="645" stroke="#009b4b" stroke-width="1.25"/>
<line x1="466.8" y1="657" x2="473.4" y2="657" stroke="#009b4b" stroke-width="1.25"/>
<circle cx="470.1" cy="651" r="3.9" fill="none" stroke="#009b4b" stroke-width="1.1"/>
<line x1="474.5" y1="644" x2="474.5" y2="656" stroke="#009b4b" stroke-width="1.25"/>
<line x1="471.2" y1="644" x2="477.8" y2="644" stroke="#009b4b" stroke-width="1.25"/>
<line x1="471.2" y1="656" x2="477.8" y2="656" stroke="#009b4b" stroke-width="1.25"/>
<circle cx="474.5" cy="650" r="3.9" fill="none" stroke="#009b4b" stroke-width="1.1"/>
<line x1="478.9" y1="644" x2="478.9" y2="656" stroke="#009b4b" stroke-width="1.25"/>
<line x1="475.6" y1="644" x2="482.2" y2="644" stroke="#009b4b" stroke-width="1.25"/>
<line x1="475.6" y1="656" x2="482.2" y2="656" stroke="#009b4b" stroke-width="1.25"/>
<circle cx="478.9" cy="650" r="3.9" fill="none" stroke="#009b4b" stroke-width="1.1"/>
<line x1="483.3" y1="644" x2="483.3" y2="656" stroke="#009b4b" stroke-width="1.25"/>
<line x1="480" y1="644" x2="486.6" y2="644" stroke="#009b4b" stroke-width="1.25"/>
<line x1="480" y1="656" x2="486.6" y2="656" stroke="#009b4b" stroke-width="1.25"/>
<circle cx="483.3" cy="650" r="3.9" fill="none" stroke="#009b4b" stroke-width="1.1"/>
<line x1="487.7" y1="643" x2="487.7" y2="655" stroke="#009b4b" stroke-width="1.25"/>
<line x1="484.4" y1="643" x2="491" y2="643" stroke="#009b4b" stroke-width="1.25"/>
<line x1="484.4" y1="655" x2="491" y2="655" stroke="#009b4b" stroke-width="1.25"/>
<circle cx="487.7" cy="649" r="3.9" fill="none" stroke="#009b4b" stroke-width="1.1"/>
<line x1="492.1" y1="633" x2="492.1" y2="651" stroke="#009b4b" stroke-width="1.25"/>
<line x1="488.8" y1="633" x2="495.4" y2="633" stroke="#009b4b" stroke-width="1.25"/>
<line x1="488.8" y1="651" x2="495.4" y2="651" stroke="#009b4b" stroke-width="1.25"/>
<circle cx="492.1" cy="642" r="3.9" fill="none" stroke="#009b4b" stroke-width="1.1"/>
<line x1="496.5" y1="623" x2="496.5" y2="649" stroke="#009b4b" stroke-width="1.25"/>
<line x1="493.2" y1="623" x2="499.8" y2="623" stroke="#009b4b" stroke-width="1.25"/>
<line x1="493.2" y1="649" x2="499.8" y2="649" stroke="#009b4b" stroke-width="1.25"/>
<circle cx="496.5" cy="636" r="3.9" fill="none" stroke="#009b4b" stroke-width="1.1"/>
<line x1="500.9" y1="625" x2="500.9" y2="653" stroke="#009b4b" stroke-width="1.25"/>
<line x1="497.6" y1="625" x2="504.2" y2="625" stroke="#009b4b" stroke-width="1.25"/>
<line x1="497.6" y1="653" x2="504.2" y2="653" stroke="#009b4b" stroke-width="1.25"/>
<circle cx="500.9" cy="639" r="3.9" fill="none" stroke="#009b4b" stroke-width="1.1"/>
<line x1="505.3" y1="618" x2="505.3" y2="648" stroke="#009b4b" stroke-width="1.25"/>
<line x1="502" y1="618" x2="508.6" y2="618" stroke="#009b4b" stroke-width="1.25"/>
<line x1="502" y1="648" x2="508.6" y2="648" stroke="#009b4b" stroke-width="1.25"/>
<circle cx="505.3" cy="633" r="3.9" fill="none" stroke="#009b4b" stroke-width="1.1"/>
<line x1="509.7" y1="621" x2="509.7" y2="651" stroke="#009b4b" stroke-width="1.25"/>
<line x1="506.4" y1="621" x2="513" y2="621" stroke="#009b4b" stroke-width="1.25"/>
<line x1="506.4" y1="651" x2="513" y2="651" stroke="#009b4b" stroke-width="1.25"/>
<circle cx="509.7" cy="636" r="3.9" fill="none" stroke="#009b4b" stroke-width="1.1"/>
<line x1="514.1" y1="613" x2="514.1" y2="645" stroke="#009b4b" stroke-width="1.25"/>
<line x1="510.8" y1="613" x2="517.4" y2="613" stroke="#009b4b" stroke-width="1.25"/>
<line x1="510.8" y1="645" x2="517.4" y2="645" stroke="#009b4b" stroke-width="1.25"/>
<circle cx="514.1" cy="629" r="3.9" fill="none" stroke="#009b4b" stroke-width="1.1"/>
<line x1="518.5" y1="616" x2="518.5" y2="652" stroke="#009b4b" stroke-width="1.25"/>
<line x1="515.2" y1="616" x2="521.8" y2="616" stroke="#009b4b" stroke-width="1.25"/>
<line x1="515.2" y1="652" x2="521.8" y2="652" stroke="#009b4b" stroke-width="1.25"/>
<circle cx="518.5" cy="634" r="3.9" fill="none" stroke="#009b4b" stroke-width="1.1"/>
<line x1="522.9" y1="606" x2="522.9" y2="642" stroke="#009b4b" stroke-width="1.25"/>
<line x1="519.6" y1="606" x2="526.2" y2="606" stroke="#009b4b" stroke-width="1.25"/>
<line x1="519.6" y1="642" x2="526.2" y2="642" stroke="#009b4b" stroke-width="1.25"/>
<circle cx="522.9" cy="624" r="3.9" fill="none" stroke="#009b4b" stroke-width="1.1"/>
<line x1="527.3" y1="613" x2="527.3" y2="651" stroke="#009b4b" stroke-width="1.25"/>
<line x1="524" y1="613" x2="530.6" y2="613" stroke="#009b4b" stroke-width="1.25"/>
<line x1="524" y1="651" x2="530.6" y2="651" stroke="#009b4b" stroke-width="1.25"/>
<circle cx="527.3" cy="632" r="3.9" fill="none" stroke="#009b4b" stroke-width="1.1"/>
<line x1="531.7" y1="605" x2="531.7" y2="643" stroke="#009b4b" stroke-width="1.25"/>
<line x1="528.4" y1="605" x2="535" y2="605" stroke="#009b4b" stroke-width="1.25"/>
<line x1="528.4" y1="643" x2="535" y2="643" stroke="#009b4b" stroke-width="1.25"/>
<circle cx="531.7" cy="624" r="3.9" fill="none" stroke="#009b4b" stroke-width="1.1"/>
<line x1="536.1" y1="614" x2="536.1" y2="652" stroke="#009b4b" stroke-width="1.25"/>
<line x1="532.8" y1="614" x2="539.4" y2="614" stroke="#009b4b" stroke-width="1.25"/>
<line x1="532.8" y1="652" x2="539.4" y2="652" stroke="#009b4b" stroke-width="1.25"/>
<circle cx="536.1" cy="633" r="3.9" fill="none" stroke="#009b4b" stroke-width="1.1"/>
<line x1="540.5" y1="607" x2="540.5" y2="645" stroke="#009b4b" stroke-width="1.25"/>
<line x1="537.2" y1="607" x2="543.8" y2="607" stroke="#009b4b" stroke-width="1.25"/>
<line x1="537.2" y1="645" x2="543.8" y2="645" stroke="#009b4b" stroke-width="1.25"/>
<circle cx="540.5" cy="626" r="3.9" fill="none" stroke="#009b4b" stroke-width="1.1"/>
<line x1="544.9" y1="611" x2="544.9" y2="649" stroke="#009b4b" stroke-width="1.25"/>
<line x1="541.6" y1="611" x2="548.2" y2="611" stroke="#009b4b" stroke-width="1.25"/>
<line x1="541.6" y1="649" x2="548.2" y2="649" stroke="#009b4b" stroke-width="1.25"/>
<circle cx="544.9" cy="630" r="3.9" fill="none" stroke="#009b4b" stroke-width="1.1"/>
<line x1="549.3" y1="604" x2="549.3" y2="642" stroke="#009b4b" stroke-width="1.25"/>
<line x1="546" y1="604" x2="552.6" y2="604" stroke="#009b4b" stroke-width="1.25"/>
<line x1="546" y1="642" x2="552.6" y2="642" stroke="#009b4b" stroke-width="1.25"/>
<circle cx="549.3" cy="623" r="3.9" fill="none" stroke="#009b4b" stroke-width="1.1"/>
<line x1="553.7" y1="615" x2="553.7" y2="651" stroke="#009b4b" stroke-width="1.25"/>
<line x1="550.4" y1="615" x2="557" y2="615" stroke="#009b4b" stroke-width="1.25"/>
<line x1="550.4" y1="651" x2="557" y2="651" stroke="#009b4b" stroke-width="1.25"/>
<circle cx="553.7" cy="633" r="3.9" fill="none" stroke="#009b4b" stroke-width="1.1"/>
<line x1="558.1" y1="607" x2="558.1" y2="643" stroke="#009b4b" stroke-width="1.25"/>
<line x1="554.8" y1="607" x2="561.4" y2="607" stroke="#009b4b" stroke-width="1.25"/>
<line x1="554.8" y1="643" x2="561.4" y2="643" stroke="#009b4b" stroke-width="1.25"/>
<circle cx="558.1" cy="625" r="3.9" fill="none" stroke="#009b4b" stroke-width="1.1"/>
<line x1="562.5" y1="604" x2="562.5" y2="640" stroke="#009b4b" stroke-width="1.25"/>
<line x1="559.2" y1="604" x2="565.8" y2="604" stroke="#009b4b" stroke-width="1.25"/>
<line x1="559.2" y1="640" x2="565.8" y2="640" stroke="#009b4b" stroke-width="1.25"/>
<circle cx="562.5" cy="622" r="3.9" fill="none" stroke="#009b4b" stroke-width="1.1"/>
<line x1="566.9" y1="618" x2="566.9" y2="650" stroke="#009b4b" stroke-width="1.25"/>
<line x1="563.6" y1="618" x2="570.2" y2="618" stroke="#009b4b" stroke-width="1.25"/>
<line x1="563.6" y1="650" x2="570.2" y2="650" stroke="#009b4b" stroke-width="1.25"/>
<circle cx="566.9" cy="634" r="3.9" fill="none" stroke="#009b4b" stroke-width="1.1"/>
<line x1="571.3" y1="616" x2="571.3" y2="640" stroke="#009b4b" stroke-width="1.25"/>
<line x1="568" y1="616" x2="574.6" y2="616" stroke="#009b4b" stroke-width="1.25"/>
<line x1="568" y1="640" x2="574.6" y2="640" stroke="#009b4b" stroke-width="1.25"/>
<circle cx="571.3" cy="628" r="3.9" fill="none" stroke="#009b4b" stroke-width="1.1"/>
<line x1="575.7" y1="624" x2="575.7" y2="644" stroke="#009b4b" stroke-width="1.25"/>
<line x1="572.4" y1="624" x2="579" y2="624" stroke="#009b4b" stroke-width="1.25"/>
<line x1="572.4" y1="644" x2="579" y2="644" stroke="#009b4b" stroke-width="1.25"/>
<circle cx="575.7" cy="634" r="3.9" fill="none" stroke="#009b4b" stroke-width="1.1"/>
<line x1="580.1" y1="623" x2="580.1" y2="641" stroke="#009b4b" stroke-width="1.25"/>
<line x1="576.8" y1="623" x2="583.4" y2="623" stroke="#009b4b" stroke-width="1.25"/>
<line x1="576.8" y1="641" x2="583.4" y2="641" stroke="#009b4b" stroke-width="1.25"/>
<circle cx="580.1" cy="632" r="3.9" fill="none" stroke="#009b4b" stroke-width="1.1"/>
<line x1="584.5" y1="625" x2="584.5" y2="641" stroke="#009b4b" stroke-width="1.25"/>
<line x1="581.2" y1="625" x2="587.8" y2="625" stroke="#009b4b" stroke-width="1.25"/>
<line x1="581.2" y1="641" x2="587.8" y2="641" stroke="#009b4b" stroke-width="1.25"/>
<circle cx="584.5" cy="633" r="3.9" fill="none" stroke="#009b4b" stroke-width="1.1"/>
<text x="498.95" y="602.8" font-size="15.9" fill="#1a1a1a" font-weight="normal" stroke="#1a1a1a" stroke-width="0.3">n.s.</text>
<text x="576.65" y="615.4" font-size="15.9" fill="#1a1a1a" font-weight="normal" stroke="#1a1a1a" stroke-width="0.3">n.s.</text>
<text x="499.35" y="703.2" font-size="15.9" fill="#1a1a1a" font-weight="normal" stroke="#1a1a1a" stroke-width="0.3">n.s.</text>
<text x="555.95" y="731" font-size="15.3" fill="#1a1a1a" font-weight="normal" stroke="#1a1a1a" stroke-width="0.3">*p=0.02</text>
</svg></body></html>
